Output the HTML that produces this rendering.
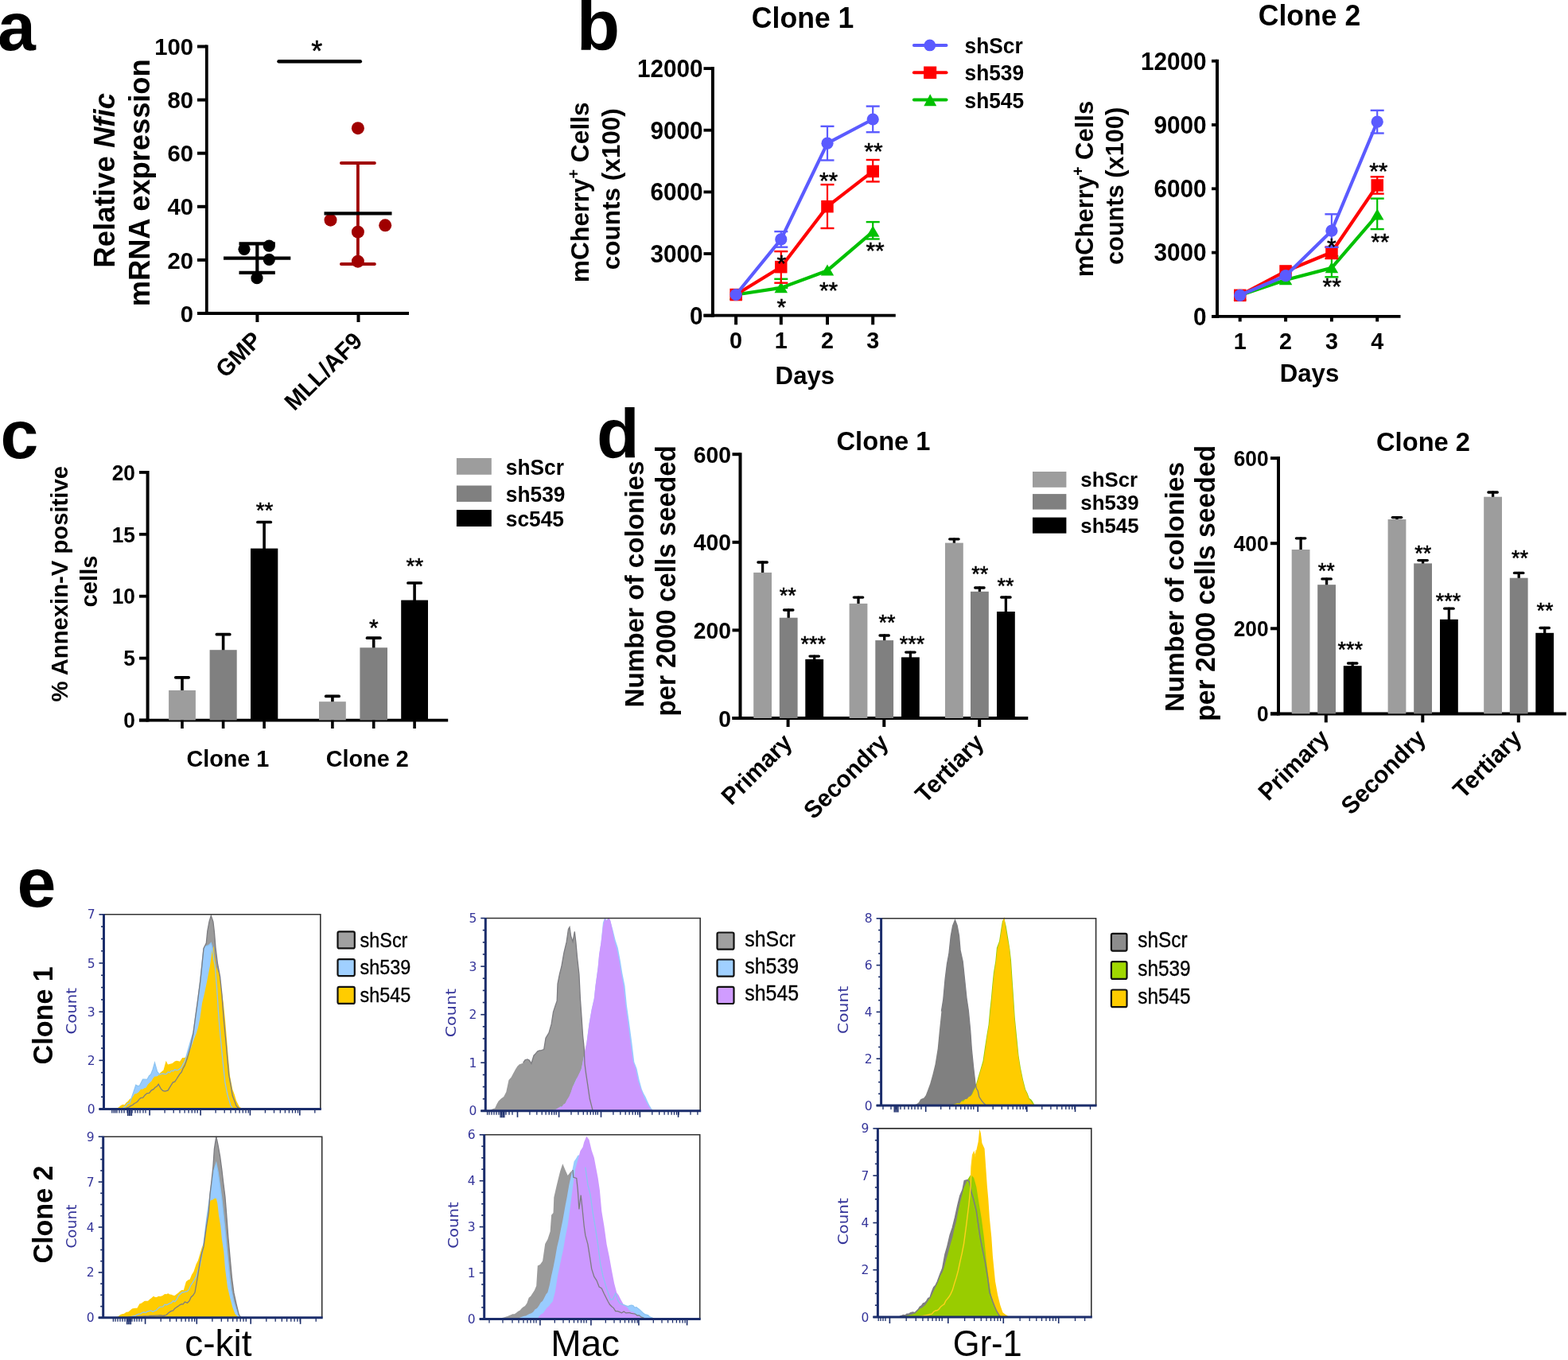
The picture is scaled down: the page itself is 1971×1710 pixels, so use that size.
<!DOCTYPE html>
<html><head><meta charset="utf-8"><title>Figure</title>
<style>html,body{margin:0;padding:0;background:#fff;overflow:hidden;width:1971px;height:1710px;}svg{display:block;filter:blur(0.4px);}</style>
</head><body>
<svg width="1971" height="1710" viewBox="0 0 1971 1710">
<rect width="1971" height="1710" fill="#fff"/>
<text transform="translate(-3.00 63.00)" font-size="86" text-anchor="start" fill="#000" style='font-family:"Liberation Sans",Arial,sans-serif;font-weight:bold'>a</text>
<line x1="259.8" y1="56.5" x2="259.8" y2="396.0" stroke="#000" stroke-width="3.8" stroke-linecap="butt"/>
<line x1="248.0" y1="394.0" x2="514.0" y2="394.0" stroke="#000" stroke-width="4" stroke-linecap="butt"/>
<line x1="248.0" y1="394.0" x2="259.8" y2="394.0" stroke="#000" stroke-width="4" stroke-linecap="butt"/>
<text transform="translate(243.00 404.60) scale(0.9750 1)" font-size="30" text-anchor="end" fill="#000" style='font-family:"Liberation Sans",Arial,sans-serif;font-weight:bold'>0</text>
<line x1="248.0" y1="326.9" x2="259.8" y2="326.9" stroke="#000" stroke-width="4" stroke-linecap="butt"/>
<text transform="translate(243.00 337.50) scale(0.9750 1)" font-size="30" text-anchor="end" fill="#000" style='font-family:"Liberation Sans",Arial,sans-serif;font-weight:bold'>20</text>
<line x1="248.0" y1="259.8" x2="259.8" y2="259.8" stroke="#000" stroke-width="4" stroke-linecap="butt"/>
<text transform="translate(243.00 270.40) scale(0.9750 1)" font-size="30" text-anchor="end" fill="#000" style='font-family:"Liberation Sans",Arial,sans-serif;font-weight:bold'>40</text>
<line x1="248.0" y1="192.7" x2="259.8" y2="192.7" stroke="#000" stroke-width="4" stroke-linecap="butt"/>
<text transform="translate(243.00 203.30) scale(0.9750 1)" font-size="30" text-anchor="end" fill="#000" style='font-family:"Liberation Sans",Arial,sans-serif;font-weight:bold'>60</text>
<line x1="248.0" y1="125.6" x2="259.8" y2="125.6" stroke="#000" stroke-width="4" stroke-linecap="butt"/>
<text transform="translate(243.00 136.20) scale(0.9750 1)" font-size="30" text-anchor="end" fill="#000" style='font-family:"Liberation Sans",Arial,sans-serif;font-weight:bold'>80</text>
<line x1="248.0" y1="58.5" x2="259.8" y2="58.5" stroke="#000" stroke-width="4" stroke-linecap="butt"/>
<text transform="translate(243.00 69.10) scale(0.9750 1)" font-size="30" text-anchor="end" fill="#000" style='font-family:"Liberation Sans",Arial,sans-serif;font-weight:bold'>100</text>
<line x1="323.4" y1="394.0" x2="323.4" y2="405.0" stroke="#000" stroke-width="4" stroke-linecap="butt"/>
<line x1="450.5" y1="394.0" x2="450.5" y2="405.0" stroke="#000" stroke-width="4" stroke-linecap="butt"/>
<text transform="translate(143.8 226.8) rotate(-90) scale(0.985 1)" text-anchor="middle" font-size="37.2" style='font-family:"Liberation Sans",Arial,sans-serif;font-weight:bold'>Relative <tspan font-style="italic">Nfic</tspan></text>
<text transform="translate(188.10 229.80) rotate(-90) scale(0.9750 1)" font-size="37.2" text-anchor="middle" fill="#000" style='font-family:"Liberation Sans",Arial,sans-serif;font-weight:bold'>mRNA expression</text>
<text transform="translate(330.50 429.50) rotate(-45) scale(0.9750 1)" font-size="30" text-anchor="end" fill="#000" style='font-family:"Liberation Sans",Arial,sans-serif;font-weight:bold'>GMP</text>
<text transform="translate(457.30 430.50) rotate(-45) scale(0.9750 1)" font-size="30" text-anchor="end" fill="#000" style='font-family:"Liberation Sans",Arial,sans-serif;font-weight:bold'>MLL/AF9</text>
<line x1="281.0" y1="324.7" x2="365.3" y2="324.7" stroke="#000" stroke-width="4.2" stroke-linecap="butt"/>
<line x1="300.5" y1="306.3" x2="345.8" y2="306.3" stroke="#000" stroke-width="4.2" stroke-linecap="butt"/>
<line x1="300.5" y1="342.8" x2="345.8" y2="342.8" stroke="#000" stroke-width="4.2" stroke-linecap="butt"/>
<line x1="323.3" y1="306.3" x2="323.3" y2="342.8" stroke="#000" stroke-width="4.2" stroke-linecap="butt"/>
<circle cx="307.0" cy="313.3" r="7.6" fill="#000"/>
<circle cx="338.3" cy="309.2" r="7.6" fill="#000"/>
<circle cx="338.3" cy="326.3" r="7.6" fill="#000"/>
<circle cx="323.0" cy="349.7" r="7.6" fill="#000"/>
<line x1="449.9" y1="205.0" x2="449.9" y2="332.0" stroke="#A00000" stroke-width="3.8" stroke-linecap="butt"/>
<line x1="429.0" y1="205.0" x2="470.8" y2="205.0" stroke="#A00000" stroke-width="4.1" stroke-linecap="round"/>
<line x1="429.0" y1="332.0" x2="470.8" y2="332.0" stroke="#A00000" stroke-width="4.1" stroke-linecap="round"/>
<circle cx="449.9" cy="161.2" r="8" fill="#A00000"/>
<circle cx="415.5" cy="276.7" r="8" fill="#A00000"/>
<circle cx="484.2" cy="283.3" r="8" fill="#A00000"/>
<circle cx="449.9" cy="291.7" r="8" fill="#A00000"/>
<circle cx="449.9" cy="328.7" r="8" fill="#A00000"/>
<line x1="407.5" y1="268.3" x2="492.5" y2="268.3" stroke="#000" stroke-width="4.2" stroke-linecap="butt"/>
<line x1="350.5" y1="77.2" x2="452.8" y2="77.2" stroke="#000" stroke-width="4.5" stroke-linecap="round"/>
<text transform="translate(398.25 76.80)" font-size="36" text-anchor="middle" fill="#000" style='font-family:"Liberation Sans",Arial,sans-serif;font-weight:normal;stroke:#000;stroke-width:0.5'>*</text>
<text transform="translate(724.80 62.60)" font-size="89" text-anchor="start" fill="#000" style='font-family:"Liberation Sans",Arial,sans-serif;font-weight:bold'>b</text>
<line x1="895.9" y1="84.1" x2="895.9" y2="398.7" stroke="#000" stroke-width="4" stroke-linecap="butt"/>
<line x1="884.5" y1="396.7" x2="1125.8" y2="396.7" stroke="#000" stroke-width="3.8" stroke-linecap="butt"/>
<line x1="884.5" y1="396.7" x2="895.9" y2="396.7" stroke="#000" stroke-width="3.8" stroke-linecap="butt"/>
<text transform="translate(883.60 407.50) scale(0.9750 1)" font-size="30.5" text-anchor="end" fill="#000" style='font-family:"Liberation Sans",Arial,sans-serif;font-weight:bold'>0</text>
<line x1="884.5" y1="319.0" x2="895.9" y2="319.0" stroke="#000" stroke-width="3.8" stroke-linecap="butt"/>
<text transform="translate(883.60 329.85) scale(0.9750 1)" font-size="30.5" text-anchor="end" fill="#000" style='font-family:"Liberation Sans",Arial,sans-serif;font-weight:bold'>3000</text>
<line x1="884.5" y1="241.4" x2="895.9" y2="241.4" stroke="#000" stroke-width="3.8" stroke-linecap="butt"/>
<text transform="translate(883.60 252.20) scale(0.9750 1)" font-size="30.5" text-anchor="end" fill="#000" style='font-family:"Liberation Sans",Arial,sans-serif;font-weight:bold'>6000</text>
<line x1="884.5" y1="163.7" x2="895.9" y2="163.7" stroke="#000" stroke-width="3.8" stroke-linecap="butt"/>
<text transform="translate(883.60 174.55) scale(0.9750 1)" font-size="30.5" text-anchor="end" fill="#000" style='font-family:"Liberation Sans",Arial,sans-serif;font-weight:bold'>9000</text>
<line x1="884.5" y1="86.1" x2="895.9" y2="86.1" stroke="#000" stroke-width="3.8" stroke-linecap="butt"/>
<text transform="translate(883.60 96.90) scale(0.9750 1)" font-size="30.5" text-anchor="end" fill="#000" style='font-family:"Liberation Sans",Arial,sans-serif;font-weight:bold'>12000</text>
<line x1="925.1" y1="396.7" x2="925.1" y2="408.3" stroke="#000" stroke-width="4" stroke-linecap="butt"/>
<text transform="translate(925.10 438.20) scale(0.9750 1)" font-size="29.5" text-anchor="middle" fill="#000" style='font-family:"Liberation Sans",Arial,sans-serif;font-weight:bold'>0</text>
<line x1="981.8" y1="396.7" x2="981.8" y2="408.3" stroke="#000" stroke-width="4" stroke-linecap="butt"/>
<text transform="translate(981.80 438.20) scale(0.9750 1)" font-size="29.5" text-anchor="middle" fill="#000" style='font-family:"Liberation Sans",Arial,sans-serif;font-weight:bold'>1</text>
<line x1="1040.0" y1="396.7" x2="1040.0" y2="408.3" stroke="#000" stroke-width="4" stroke-linecap="butt"/>
<text transform="translate(1040.00 438.20) scale(0.9750 1)" font-size="29.5" text-anchor="middle" fill="#000" style='font-family:"Liberation Sans",Arial,sans-serif;font-weight:bold'>2</text>
<line x1="1097.2" y1="396.7" x2="1097.2" y2="408.3" stroke="#000" stroke-width="4" stroke-linecap="butt"/>
<text transform="translate(1097.20 438.20) scale(0.9750 1)" font-size="29.5" text-anchor="middle" fill="#000" style='font-family:"Liberation Sans",Arial,sans-serif;font-weight:bold'>3</text>
<line x1="981.8" y1="350.8" x2="981.8" y2="362.0" stroke="#00C000" stroke-width="2.2" stroke-linecap="butt"/>
<line x1="973.3" y1="350.8" x2="990.3" y2="350.8" stroke="#00C000" stroke-width="2.4" stroke-linecap="butt"/>
<line x1="973.3" y1="362.0" x2="990.3" y2="362.0" stroke="#00C000" stroke-width="2.4" stroke-linecap="butt"/>
<line x1="1097.2" y1="279.1" x2="1097.2" y2="300.5" stroke="#00C000" stroke-width="2.2" stroke-linecap="butt"/>
<line x1="1088.7" y1="279.1" x2="1105.7" y2="279.1" stroke="#00C000" stroke-width="2.4" stroke-linecap="butt"/>
<line x1="1088.7" y1="300.5" x2="1105.7" y2="300.5" stroke="#00C000" stroke-width="2.4" stroke-linecap="butt"/>
<polyline points="925.1,370.5 981.8,361.9 1040.0,340.2 1097.2,291.4" fill="none" stroke="#00C000" stroke-width="4.2" stroke-linejoin="round"/>
<polygon points="925.1,362.8 933.4,376.8 916.9,376.8" fill="#00C000"/>
<polygon points="981.8,354.2 990.0,368.2 973.5,368.2" fill="#00C000"/>
<polygon points="1040.0,332.5 1048.2,346.5 1031.8,346.5" fill="#00C000"/>
<polygon points="1097.2,283.7 1105.5,297.7 1089.0,297.7" fill="#00C000"/>
<line x1="981.8" y1="316.1" x2="981.8" y2="355.7" stroke="#FF0000" stroke-width="2.2" stroke-linecap="butt"/>
<line x1="973.3" y1="316.1" x2="990.3" y2="316.1" stroke="#FF0000" stroke-width="2.4" stroke-linecap="butt"/>
<line x1="973.3" y1="355.7" x2="990.3" y2="355.7" stroke="#FF0000" stroke-width="2.4" stroke-linecap="butt"/>
<line x1="1040.0" y1="232.1" x2="1040.0" y2="287.0" stroke="#FF0000" stroke-width="2.2" stroke-linecap="butt"/>
<line x1="1031.5" y1="232.1" x2="1048.5" y2="232.1" stroke="#FF0000" stroke-width="2.4" stroke-linecap="butt"/>
<line x1="1031.5" y1="287.0" x2="1048.5" y2="287.0" stroke="#FF0000" stroke-width="2.4" stroke-linecap="butt"/>
<line x1="1097.2" y1="201.0" x2="1097.2" y2="228.4" stroke="#FF0000" stroke-width="2.2" stroke-linecap="butt"/>
<line x1="1088.7" y1="201.0" x2="1105.7" y2="201.0" stroke="#FF0000" stroke-width="2.4" stroke-linecap="butt"/>
<line x1="1088.7" y1="228.4" x2="1105.7" y2="228.4" stroke="#FF0000" stroke-width="2.4" stroke-linecap="butt"/>
<polyline points="925.1,370.5 981.8,335.7 1040.0,259.6 1097.2,215.4" fill="none" stroke="#FF0000" stroke-width="4.2" stroke-linejoin="round"/>
<rect x="917.4" y="362.8" width="15.5" height="15.5" fill="#FF0000"/>
<rect x="974.0" y="327.9" width="15.5" height="15.5" fill="#FF0000"/>
<rect x="1032.2" y="251.9" width="15.5" height="15.5" fill="#FF0000"/>
<rect x="1089.5" y="207.7" width="15.5" height="15.5" fill="#FF0000"/>
<line x1="981.8" y1="291.1" x2="981.8" y2="310.7" stroke="#5B5BFF" stroke-width="2.2" stroke-linecap="butt"/>
<line x1="973.3" y1="291.1" x2="990.3" y2="291.1" stroke="#5B5BFF" stroke-width="2.4" stroke-linecap="butt"/>
<line x1="973.3" y1="310.7" x2="990.3" y2="310.7" stroke="#5B5BFF" stroke-width="2.4" stroke-linecap="butt"/>
<line x1="1040.0" y1="158.8" x2="1040.0" y2="201.5" stroke="#5B5BFF" stroke-width="2.2" stroke-linecap="butt"/>
<line x1="1031.5" y1="158.8" x2="1048.5" y2="158.8" stroke="#5B5BFF" stroke-width="2.4" stroke-linecap="butt"/>
<line x1="1031.5" y1="201.5" x2="1048.5" y2="201.5" stroke="#5B5BFF" stroke-width="2.4" stroke-linecap="butt"/>
<line x1="1097.2" y1="133.6" x2="1097.2" y2="166.2" stroke="#5B5BFF" stroke-width="2.2" stroke-linecap="butt"/>
<line x1="1088.7" y1="133.6" x2="1105.7" y2="133.6" stroke="#5B5BFF" stroke-width="2.4" stroke-linecap="butt"/>
<line x1="1088.7" y1="166.2" x2="1105.7" y2="166.2" stroke="#5B5BFF" stroke-width="2.4" stroke-linecap="butt"/>
<polyline points="925.1,370.5 981.8,300.9 1040.0,180.2 1097.2,150.0" fill="none" stroke="#5B5BFF" stroke-width="4.2" stroke-linejoin="round"/>
<circle cx="925.1" cy="370.5" r="7.6" fill="#5B5BFF"/>
<circle cx="981.8" cy="300.9" r="7.6" fill="#5B5BFF"/>
<circle cx="1040.0" cy="180.2" r="7.6" fill="#5B5BFF"/>
<circle cx="1097.2" cy="150.0" r="7.6" fill="#5B5BFF"/>
<text transform="translate(982.30 340.50)" font-size="30" text-anchor="middle" fill="#000" style='font-family:"Liberation Sans",Arial,sans-serif;font-weight:normal;stroke:#000;stroke-width:0.5'>*</text>
<text transform="translate(982.30 395.70)" font-size="30" text-anchor="middle" fill="#000" style='font-family:"Liberation Sans",Arial,sans-serif;font-weight:normal;stroke:#000;stroke-width:0.5'>*</text>
<text transform="translate(1041.60 236.50)" font-size="30" text-anchor="middle" fill="#000" style='font-family:"Liberation Sans",Arial,sans-serif;font-weight:normal;stroke:#000;stroke-width:0.5'>**</text>
<text transform="translate(1041.60 375.20)" font-size="30" text-anchor="middle" fill="#000" style='font-family:"Liberation Sans",Arial,sans-serif;font-weight:normal;stroke:#000;stroke-width:0.5'>**</text>
<text transform="translate(1098.00 199.70)" font-size="30" text-anchor="middle" fill="#000" style='font-family:"Liberation Sans",Arial,sans-serif;font-weight:normal;stroke:#000;stroke-width:0.5'>**</text>
<text transform="translate(1100.10 324.90)" font-size="30" text-anchor="middle" fill="#000" style='font-family:"Liberation Sans",Arial,sans-serif;font-weight:normal;stroke:#000;stroke-width:0.5'>**</text>
<text transform="translate(1009.10 35.00) scale(0.9750 1)" font-size="36.5" text-anchor="middle" fill="#000" style='font-family:"Liberation Sans",Arial,sans-serif;font-weight:bold'>Clone 1</text>
<text transform="translate(1011.90 482.60) scale(0.9750 1)" font-size="32" text-anchor="middle" fill="#000" style='font-family:"Liberation Sans",Arial,sans-serif;font-weight:bold'>Days</text>
<text transform="translate(740.3 241.7) rotate(-90) scale(0.993 1)" text-anchor="middle" font-size="32" style='font-family:"Liberation Sans",Arial,sans-serif;font-weight:bold'>mCherry<tspan font-size="20" dy="-12">+</tspan><tspan dy="12"> Cells</tspan></text>
<text transform="translate(778.70 237.70) rotate(-90) scale(0.9910 1)" font-size="31.8" text-anchor="middle" fill="#000" style='font-family:"Liberation Sans",Arial,sans-serif;font-weight:bold'>counts (x100)</text>
<line x1="1530.0" y1="74.7" x2="1530.0" y2="399.9" stroke="#000" stroke-width="4" stroke-linecap="butt"/>
<line x1="1523.0" y1="397.9" x2="1760.5" y2="397.9" stroke="#000" stroke-width="3.8" stroke-linecap="butt"/>
<line x1="1523.0" y1="397.9" x2="1530.0" y2="397.9" stroke="#000" stroke-width="3.8" stroke-linecap="butt"/>
<text transform="translate(1516.60 408.70) scale(0.9750 1)" font-size="30.5" text-anchor="end" fill="#000" style='font-family:"Liberation Sans",Arial,sans-serif;font-weight:bold'>0</text>
<line x1="1523.0" y1="317.6" x2="1530.0" y2="317.6" stroke="#000" stroke-width="3.8" stroke-linecap="butt"/>
<text transform="translate(1516.60 328.40) scale(0.9750 1)" font-size="30.5" text-anchor="end" fill="#000" style='font-family:"Liberation Sans",Arial,sans-serif;font-weight:bold'>3000</text>
<line x1="1523.0" y1="237.3" x2="1530.0" y2="237.3" stroke="#000" stroke-width="3.8" stroke-linecap="butt"/>
<text transform="translate(1516.60 248.10) scale(0.9750 1)" font-size="30.5" text-anchor="end" fill="#000" style='font-family:"Liberation Sans",Arial,sans-serif;font-weight:bold'>6000</text>
<line x1="1523.0" y1="157.0" x2="1530.0" y2="157.0" stroke="#000" stroke-width="3.8" stroke-linecap="butt"/>
<text transform="translate(1516.60 167.80) scale(0.9750 1)" font-size="30.5" text-anchor="end" fill="#000" style='font-family:"Liberation Sans",Arial,sans-serif;font-weight:bold'>9000</text>
<line x1="1523.0" y1="76.7" x2="1530.0" y2="76.7" stroke="#000" stroke-width="3.8" stroke-linecap="butt"/>
<text transform="translate(1516.60 87.50) scale(0.9750 1)" font-size="30.5" text-anchor="end" fill="#000" style='font-family:"Liberation Sans",Arial,sans-serif;font-weight:bold'>12000</text>
<line x1="1558.7" y1="397.9" x2="1558.7" y2="404.4" stroke="#000" stroke-width="4" stroke-linecap="butt"/>
<text transform="translate(1558.70 439.40) scale(0.9750 1)" font-size="29.5" text-anchor="middle" fill="#000" style='font-family:"Liberation Sans",Arial,sans-serif;font-weight:bold'>1</text>
<line x1="1616.1" y1="397.9" x2="1616.1" y2="404.4" stroke="#000" stroke-width="4" stroke-linecap="butt"/>
<text transform="translate(1616.10 439.40) scale(0.9750 1)" font-size="29.5" text-anchor="middle" fill="#000" style='font-family:"Liberation Sans",Arial,sans-serif;font-weight:bold'>2</text>
<line x1="1673.9" y1="397.9" x2="1673.9" y2="404.4" stroke="#000" stroke-width="4" stroke-linecap="butt"/>
<text transform="translate(1673.90 439.40) scale(0.9750 1)" font-size="29.5" text-anchor="middle" fill="#000" style='font-family:"Liberation Sans",Arial,sans-serif;font-weight:bold'>3</text>
<line x1="1731.2" y1="397.9" x2="1731.2" y2="404.4" stroke="#000" stroke-width="4" stroke-linecap="butt"/>
<text transform="translate(1731.20 439.40) scale(0.9750 1)" font-size="29.5" text-anchor="middle" fill="#000" style='font-family:"Liberation Sans",Arial,sans-serif;font-weight:bold'>4</text>
<line x1="1673.9" y1="322.0" x2="1673.9" y2="348.3" stroke="#00C000" stroke-width="2.2" stroke-linecap="butt"/>
<line x1="1665.4" y1="322.0" x2="1682.4" y2="322.0" stroke="#00C000" stroke-width="2.4" stroke-linecap="butt"/>
<line x1="1665.4" y1="348.3" x2="1682.4" y2="348.3" stroke="#00C000" stroke-width="2.4" stroke-linecap="butt"/>
<line x1="1731.2" y1="249.6" x2="1731.2" y2="288.1" stroke="#00C000" stroke-width="2.2" stroke-linecap="butt"/>
<line x1="1722.7" y1="249.6" x2="1739.7" y2="249.6" stroke="#00C000" stroke-width="2.4" stroke-linecap="butt"/>
<line x1="1722.7" y1="288.1" x2="1739.7" y2="288.1" stroke="#00C000" stroke-width="2.4" stroke-linecap="butt"/>
<polyline points="1558.7,371.3 1616.1,352.0 1673.9,336.9 1731.2,270.3" fill="none" stroke="#00C000" stroke-width="4.2" stroke-linejoin="round"/>
<polygon points="1558.7,363.6 1567.0,377.6 1550.5,377.6" fill="#00C000"/>
<polygon points="1616.1,344.3 1624.3,358.3 1607.8,358.3" fill="#00C000"/>
<polygon points="1673.9,329.2 1682.2,343.2 1665.7,343.2" fill="#00C000"/>
<polygon points="1731.2,262.6 1739.5,276.6 1723.0,276.6" fill="#00C000"/>
<line x1="1673.9" y1="310.7" x2="1673.9" y2="325.0" stroke="#FF0000" stroke-width="2.2" stroke-linecap="butt"/>
<line x1="1665.4" y1="310.7" x2="1682.4" y2="310.7" stroke="#FF0000" stroke-width="2.4" stroke-linecap="butt"/>
<line x1="1665.4" y1="325.0" x2="1682.4" y2="325.0" stroke="#FF0000" stroke-width="2.4" stroke-linecap="butt"/>
<line x1="1731.2" y1="222.3" x2="1731.2" y2="243.6" stroke="#FF0000" stroke-width="2.2" stroke-linecap="butt"/>
<line x1="1722.7" y1="222.3" x2="1739.7" y2="222.3" stroke="#FF0000" stroke-width="2.4" stroke-linecap="butt"/>
<line x1="1722.7" y1="243.6" x2="1739.7" y2="243.6" stroke="#FF0000" stroke-width="2.4" stroke-linecap="butt"/>
<polyline points="1558.7,371.3 1616.1,341.0 1673.9,317.3 1731.2,233.0" fill="none" stroke="#FF0000" stroke-width="4.2" stroke-linejoin="round"/>
<rect x="1551.0" y="363.6" width="15.5" height="15.5" fill="#FF0000"/>
<rect x="1608.3" y="333.2" width="15.5" height="15.5" fill="#FF0000"/>
<rect x="1666.2" y="309.6" width="15.5" height="15.5" fill="#FF0000"/>
<rect x="1723.5" y="225.2" width="15.5" height="15.5" fill="#FF0000"/>
<line x1="1673.9" y1="269.3" x2="1673.9" y2="310.7" stroke="#5B5BFF" stroke-width="2.2" stroke-linecap="butt"/>
<line x1="1665.4" y1="269.3" x2="1682.4" y2="269.3" stroke="#5B5BFF" stroke-width="2.4" stroke-linecap="butt"/>
<line x1="1665.4" y1="310.7" x2="1682.4" y2="310.7" stroke="#5B5BFF" stroke-width="2.4" stroke-linecap="butt"/>
<line x1="1731.2" y1="138.8" x2="1731.2" y2="167.5" stroke="#5B5BFF" stroke-width="2.2" stroke-linecap="butt"/>
<line x1="1722.7" y1="138.8" x2="1739.7" y2="138.8" stroke="#5B5BFF" stroke-width="2.4" stroke-linecap="butt"/>
<line x1="1722.7" y1="167.5" x2="1739.7" y2="167.5" stroke="#5B5BFF" stroke-width="2.4" stroke-linecap="butt"/>
<polyline points="1558.7,371.3 1616.1,346.7 1673.9,290.2 1731.2,153.2" fill="none" stroke="#5B5BFF" stroke-width="4.2" stroke-linejoin="round"/>
<circle cx="1558.7" cy="371.3" r="7.6" fill="#5B5BFF"/>
<circle cx="1616.1" cy="346.7" r="7.6" fill="#5B5BFF"/>
<circle cx="1673.9" cy="290.2" r="7.6" fill="#5B5BFF"/>
<circle cx="1731.2" cy="153.2" r="7.6" fill="#5B5BFF"/>
<text transform="translate(1673.80 319.50)" font-size="30" text-anchor="middle" fill="#000" style='font-family:"Liberation Sans",Arial,sans-serif;font-weight:normal;stroke:#000;stroke-width:0.5'>*</text>
<text transform="translate(1674.20 370.30)" font-size="30" text-anchor="middle" fill="#000" style='font-family:"Liberation Sans",Arial,sans-serif;font-weight:normal;stroke:#000;stroke-width:0.5'>**</text>
<text transform="translate(1732.80 225.00)" font-size="30" text-anchor="middle" fill="#000" style='font-family:"Liberation Sans",Arial,sans-serif;font-weight:normal;stroke:#000;stroke-width:0.5'>**</text>
<text transform="translate(1734.80 314.30)" font-size="30" text-anchor="middle" fill="#000" style='font-family:"Liberation Sans",Arial,sans-serif;font-weight:normal;stroke:#000;stroke-width:0.5'>**</text>
<text transform="translate(1646.00 31.60) scale(0.9750 1)" font-size="36.5" text-anchor="middle" fill="#000" style='font-family:"Liberation Sans",Arial,sans-serif;font-weight:bold'>Clone 2</text>
<text transform="translate(1646.00 479.70) scale(0.9750 1)" font-size="32" text-anchor="middle" fill="#000" style='font-family:"Liberation Sans",Arial,sans-serif;font-weight:bold'>Days</text>
<text transform="translate(1373.5 237.6) rotate(-90) scale(0.991 1)" text-anchor="middle" font-size="31.3" style='font-family:"Liberation Sans",Arial,sans-serif;font-weight:bold'>mCherry<tspan font-size="19.5" dy="-12">+</tspan><tspan dy="12"> Cells</tspan></text>
<text transform="translate(1411.50 233.90) rotate(-90) scale(0.9910 1)" font-size="31" text-anchor="middle" fill="#000" style='font-family:"Liberation Sans",Arial,sans-serif;font-weight:bold'>counts (x100)</text>
<line x1="1148.9" y1="56.9" x2="1189.5" y2="56.9" stroke="#5B5BFF" stroke-width="4" stroke-linecap="round"/>
<circle cx="1168.8" cy="56.9" r="7.4" fill="#5B5BFF"/>
<text transform="translate(1212.50 66.60) scale(0.9750 1)" font-size="27" text-anchor="start" fill="#000" style='font-family:"Liberation Sans",Arial,sans-serif;font-weight:bold'>shScr</text>
<line x1="1148.9" y1="91.3" x2="1189.5" y2="91.3" stroke="#FF0000" stroke-width="4" stroke-linecap="round"/>
<rect x="1161.1" y="83.5" width="16.1" height="15.6" fill="#FF0000"/>
<text transform="translate(1212.50 101.10) scale(0.9750 1)" font-size="27" text-anchor="start" fill="#000" style='font-family:"Liberation Sans",Arial,sans-serif;font-weight:bold'>sh539</text>
<line x1="1148.9" y1="125.5" x2="1189.5" y2="125.5" stroke="#00C000" stroke-width="4" stroke-linecap="round"/>
<polygon points="1169.2,118.2 1177.2,133.2 1161.3,133.2" fill="#00C000"/>
<text transform="translate(1212.50 135.60) scale(0.9750 1)" font-size="27" text-anchor="start" fill="#000" style='font-family:"Liberation Sans",Arial,sans-serif;font-weight:bold'>sh545</text>
<text transform="translate(0.50 576.00)" font-size="86" text-anchor="start" fill="#000" style='font-family:"Liberation Sans",Arial,sans-serif;font-weight:bold'>c</text>
<line x1="185.6" y1="591.9" x2="185.6" y2="907.5" stroke="#000" stroke-width="4" stroke-linecap="butt"/>
<line x1="175.0" y1="905.6" x2="563.2" y2="905.6" stroke="#000" stroke-width="3.8" stroke-linecap="butt"/>
<line x1="175.0" y1="905.5" x2="185.6" y2="905.5" stroke="#000" stroke-width="3.8" stroke-linecap="butt"/>
<text transform="translate(170.00 915.20) scale(0.9750 1)" font-size="27" text-anchor="end" fill="#000" style='font-family:"Liberation Sans",Arial,sans-serif;font-weight:bold'>0</text>
<line x1="175.0" y1="827.6" x2="185.6" y2="827.6" stroke="#000" stroke-width="3.8" stroke-linecap="butt"/>
<text transform="translate(170.00 837.30) scale(0.9750 1)" font-size="27" text-anchor="end" fill="#000" style='font-family:"Liberation Sans",Arial,sans-serif;font-weight:bold'>5</text>
<line x1="175.0" y1="749.7" x2="185.6" y2="749.7" stroke="#000" stroke-width="3.8" stroke-linecap="butt"/>
<text transform="translate(170.00 759.40) scale(0.9750 1)" font-size="27" text-anchor="end" fill="#000" style='font-family:"Liberation Sans",Arial,sans-serif;font-weight:bold'>10</text>
<line x1="175.0" y1="671.8" x2="185.6" y2="671.8" stroke="#000" stroke-width="3.8" stroke-linecap="butt"/>
<text transform="translate(170.00 681.50) scale(0.9750 1)" font-size="27" text-anchor="end" fill="#000" style='font-family:"Liberation Sans",Arial,sans-serif;font-weight:bold'>15</text>
<line x1="175.0" y1="593.9" x2="185.6" y2="593.9" stroke="#000" stroke-width="3.8" stroke-linecap="butt"/>
<text transform="translate(170.00 603.60) scale(0.9750 1)" font-size="27" text-anchor="end" fill="#000" style='font-family:"Liberation Sans",Arial,sans-serif;font-weight:bold'>20</text>
<line x1="229.0" y1="851.8" x2="229.0" y2="870.0" stroke="#000" stroke-width="3.6" stroke-linecap="butt"/>
<line x1="220.8" y1="851.8" x2="237.2" y2="851.8" stroke="#000" stroke-width="3.7" stroke-linecap="round"/>
<rect x="212.1" y="868.0" width="33.8" height="37.5" fill="#9D9D9D"/>
<line x1="229.0" y1="905.5" x2="229.0" y2="916.0" stroke="#000" stroke-width="3.6" stroke-linecap="butt"/>
<line x1="280.6" y1="797.7" x2="280.6" y2="819.2" stroke="#000" stroke-width="3.6" stroke-linecap="butt"/>
<line x1="272.4" y1="797.7" x2="288.8" y2="797.7" stroke="#000" stroke-width="3.7" stroke-linecap="round"/>
<rect x="263.6" y="817.2" width="34.1" height="88.3" fill="#808080"/>
<line x1="280.6" y1="905.5" x2="280.6" y2="916.0" stroke="#000" stroke-width="3.6" stroke-linecap="butt"/>
<line x1="332.1" y1="656.5" x2="332.1" y2="691.6" stroke="#000" stroke-width="3.6" stroke-linecap="butt"/>
<line x1="323.9" y1="656.5" x2="340.3" y2="656.5" stroke="#000" stroke-width="3.7" stroke-linecap="round"/>
<rect x="315.0" y="689.6" width="34.3" height="215.9" fill="#000000"/>
<line x1="332.1" y1="905.5" x2="332.1" y2="916.0" stroke="#000" stroke-width="3.6" stroke-linecap="butt"/>
<line x1="417.9" y1="875.4" x2="417.9" y2="884.2" stroke="#000" stroke-width="3.6" stroke-linecap="butt"/>
<line x1="409.7" y1="875.4" x2="426.1" y2="875.4" stroke="#000" stroke-width="3.7" stroke-linecap="round"/>
<rect x="401.0" y="882.2" width="33.8" height="23.3" fill="#9D9D9D"/>
<line x1="417.9" y1="905.5" x2="417.9" y2="916.0" stroke="#000" stroke-width="3.6" stroke-linecap="butt"/>
<line x1="469.7" y1="802.2" x2="469.7" y2="816.3" stroke="#000" stroke-width="3.6" stroke-linecap="butt"/>
<line x1="461.5" y1="802.2" x2="477.9" y2="802.2" stroke="#000" stroke-width="3.7" stroke-linecap="round"/>
<rect x="452.4" y="814.3" width="34.6" height="91.2" fill="#808080"/>
<line x1="469.7" y1="905.5" x2="469.7" y2="916.0" stroke="#000" stroke-width="3.6" stroke-linecap="butt"/>
<line x1="521.1" y1="733.0" x2="521.1" y2="756.6" stroke="#000" stroke-width="3.6" stroke-linecap="butt"/>
<line x1="512.9" y1="733.0" x2="529.3" y2="733.0" stroke="#000" stroke-width="3.7" stroke-linecap="round"/>
<rect x="504.2" y="754.6" width="33.8" height="150.9" fill="#000000"/>
<line x1="521.1" y1="905.5" x2="521.1" y2="916.0" stroke="#000" stroke-width="3.6" stroke-linecap="butt"/>
<text transform="translate(332.60 650.60)" font-size="28" text-anchor="middle" fill="#000" style='font-family:"Liberation Sans",Arial,sans-serif;font-weight:normal;stroke:#000;stroke-width:0.5'>**</text>
<text transform="translate(469.90 798.50)" font-size="30" text-anchor="middle" fill="#000" style='font-family:"Liberation Sans",Arial,sans-serif;font-weight:normal;stroke:#000;stroke-width:0.5'>*</text>
<text transform="translate(521.30 720.80)" font-size="28" text-anchor="middle" fill="#000" style='font-family:"Liberation Sans",Arial,sans-serif;font-weight:normal;stroke:#000;stroke-width:0.5'>**</text>
<text transform="translate(286.40 964.30) scale(0.9750 1)" font-size="29.5" text-anchor="middle" fill="#000" style='font-family:"Liberation Sans",Arial,sans-serif;font-weight:bold'>Clone 1</text>
<text transform="translate(461.70 964.30) scale(0.9750 1)" font-size="29.5" text-anchor="middle" fill="#000" style='font-family:"Liberation Sans",Arial,sans-serif;font-weight:bold'>Clone 2</text>
<text transform="translate(84.80 734.20) rotate(-90) scale(0.9760 1)" font-size="30" text-anchor="middle" fill="#000" style='font-family:"Liberation Sans",Arial,sans-serif;font-weight:bold'>% Annexin-V positive</text>
<text transform="translate(122.00 731.00) rotate(-90) scale(0.9750 1)" font-size="30" text-anchor="middle" fill="#000" style='font-family:"Liberation Sans",Arial,sans-serif;font-weight:bold'>cells</text>
<rect x="573.9" y="576.0" width="43.9" height="20.8" fill="#9D9D9D"/>
<text transform="translate(635.80 596.60) scale(0.9750 1)" font-size="27" text-anchor="start" fill="#000" style='font-family:"Liberation Sans",Arial,sans-serif;font-weight:bold'>shScr</text>
<rect x="573.9" y="610.5" width="43.9" height="20.4" fill="#808080"/>
<text transform="translate(635.80 631.00) scale(0.9750 1)" font-size="27" text-anchor="start" fill="#000" style='font-family:"Liberation Sans",Arial,sans-serif;font-weight:bold'>sh539</text>
<rect x="573.9" y="641.1" width="43.9" height="20.9" fill="#000000"/>
<text transform="translate(635.80 661.50) scale(0.9750 1)" font-size="27" text-anchor="start" fill="#000" style='font-family:"Liberation Sans",Arial,sans-serif;font-weight:bold'>sc545</text>
<text transform="translate(750.10 575.40)" font-size="88" text-anchor="start" fill="#000" style='font-family:"Liberation Sans",Arial,sans-serif;font-weight:bold'>d</text>
<line x1="930.5" y1="569.2" x2="930.5" y2="905.0" stroke="#000" stroke-width="4" stroke-linecap="butt"/>
<line x1="920.5" y1="903.0" x2="1292.3" y2="903.0" stroke="#000" stroke-width="4" stroke-linecap="butt"/>
<line x1="920.5" y1="903.0" x2="930.5" y2="903.0" stroke="#000" stroke-width="4" stroke-linecap="butt"/>
<text transform="translate(919.00 913.50) scale(0.9750 1)" font-size="29" text-anchor="end" fill="#000" style='font-family:"Liberation Sans",Arial,sans-serif;font-weight:bold'>0</text>
<line x1="920.5" y1="792.4" x2="930.5" y2="792.4" stroke="#000" stroke-width="4" stroke-linecap="butt"/>
<text transform="translate(919.00 802.90) scale(0.9750 1)" font-size="29" text-anchor="end" fill="#000" style='font-family:"Liberation Sans",Arial,sans-serif;font-weight:bold'>200</text>
<line x1="920.5" y1="681.8" x2="930.5" y2="681.8" stroke="#000" stroke-width="4" stroke-linecap="butt"/>
<text transform="translate(919.00 692.30) scale(0.9750 1)" font-size="29" text-anchor="end" fill="#000" style='font-family:"Liberation Sans",Arial,sans-serif;font-weight:bold'>400</text>
<line x1="920.5" y1="571.2" x2="930.5" y2="571.2" stroke="#000" stroke-width="4" stroke-linecap="butt"/>
<text transform="translate(919.00 581.70) scale(0.9750 1)" font-size="29" text-anchor="end" fill="#000" style='font-family:"Liberation Sans",Arial,sans-serif;font-weight:bold'>600</text>
<line x1="990.6" y1="903.0" x2="990.6" y2="914.0" stroke="#000" stroke-width="4" stroke-linecap="butt"/>
<line x1="958.6" y1="707.0" x2="958.6" y2="721.4" stroke="#000" stroke-width="3.3" stroke-linecap="round"/>
<line x1="952.9" y1="707.0" x2="964.3" y2="707.0" stroke="#000" stroke-width="3.3" stroke-linecap="round"/>
<rect x="947.2" y="719.9" width="22.8" height="183.1" fill="#9D9D9D"/>
<line x1="991.2" y1="767.0" x2="991.2" y2="778.2" stroke="#000" stroke-width="3.3" stroke-linecap="round"/>
<line x1="985.5" y1="767.0" x2="996.9" y2="767.0" stroke="#000" stroke-width="3.3" stroke-linecap="round"/>
<rect x="979.8" y="776.7" width="22.8" height="126.3" fill="#808080"/>
<line x1="1023.7" y1="825.1" x2="1023.7" y2="830.4" stroke="#000" stroke-width="3.3" stroke-linecap="round"/>
<line x1="1018.0" y1="825.1" x2="1029.4" y2="825.1" stroke="#000" stroke-width="3.3" stroke-linecap="round"/>
<rect x="1012.3" y="828.9" width="22.8" height="74.1" fill="#000000"/>
<text transform="translate(997.50 935.50) rotate(-45) scale(0.9750 1)" font-size="30.5" text-anchor="end" fill="#000" style='font-family:"Liberation Sans",Arial,sans-serif;font-weight:bold'>Primary</text>
<line x1="1111.3" y1="903.0" x2="1111.3" y2="914.0" stroke="#000" stroke-width="4" stroke-linecap="butt"/>
<line x1="1079.0" y1="751.1" x2="1079.0" y2="760.4" stroke="#000" stroke-width="3.3" stroke-linecap="round"/>
<line x1="1073.3" y1="751.1" x2="1084.7" y2="751.1" stroke="#000" stroke-width="3.3" stroke-linecap="round"/>
<rect x="1067.6" y="758.9" width="22.8" height="144.1" fill="#9D9D9D"/>
<line x1="1111.7" y1="799.0" x2="1111.7" y2="806.6" stroke="#000" stroke-width="3.3" stroke-linecap="round"/>
<line x1="1106.0" y1="799.0" x2="1117.4" y2="799.0" stroke="#000" stroke-width="3.3" stroke-linecap="round"/>
<rect x="1100.3" y="805.1" width="22.8" height="97.9" fill="#808080"/>
<line x1="1144.4" y1="820.1" x2="1144.4" y2="827.9" stroke="#000" stroke-width="3.3" stroke-linecap="round"/>
<line x1="1138.7" y1="820.1" x2="1150.1" y2="820.1" stroke="#000" stroke-width="3.3" stroke-linecap="round"/>
<rect x="1133.0" y="826.4" width="22.8" height="76.6" fill="#000000"/>
<text transform="translate(1118.50 935.50) rotate(-45) scale(0.9750 1)" font-size="30.5" text-anchor="end" fill="#000" style='font-family:"Liberation Sans",Arial,sans-serif;font-weight:bold'>Secondry</text>
<line x1="1231.2" y1="903.0" x2="1231.2" y2="914.0" stroke="#000" stroke-width="4" stroke-linecap="butt"/>
<line x1="1199.4" y1="677.8" x2="1199.4" y2="684.1" stroke="#000" stroke-width="3.3" stroke-linecap="round"/>
<line x1="1193.7" y1="677.8" x2="1205.1" y2="677.8" stroke="#000" stroke-width="3.3" stroke-linecap="round"/>
<rect x="1188.0" y="682.6" width="22.8" height="220.4" fill="#9D9D9D"/>
<line x1="1231.4" y1="739.0" x2="1231.4" y2="745.3" stroke="#000" stroke-width="3.3" stroke-linecap="round"/>
<line x1="1225.7" y1="739.0" x2="1237.1" y2="739.0" stroke="#000" stroke-width="3.3" stroke-linecap="round"/>
<rect x="1220.0" y="743.8" width="22.8" height="159.2" fill="#808080"/>
<line x1="1264.4" y1="751.0" x2="1264.4" y2="770.5" stroke="#000" stroke-width="3.3" stroke-linecap="round"/>
<line x1="1258.7" y1="751.0" x2="1270.1" y2="751.0" stroke="#000" stroke-width="3.3" stroke-linecap="round"/>
<rect x="1253.0" y="769.0" width="22.8" height="134.0" fill="#000000"/>
<text transform="translate(1238.50 935.50) rotate(-45) scale(0.9750 1)" font-size="30.5" text-anchor="end" fill="#000" style='font-family:"Liberation Sans",Arial,sans-serif;font-weight:bold'>Tertiary</text>
<text transform="translate(990.30 757.50)" font-size="27" text-anchor="middle" fill="#000" style='font-family:"Liberation Sans",Arial,sans-serif;font-weight:normal;stroke:#000;stroke-width:0.5'>**</text>
<text transform="translate(1022.30 819.40)" font-size="27" text-anchor="middle" fill="#000" style='font-family:"Liberation Sans",Arial,sans-serif;font-weight:normal;stroke:#000;stroke-width:0.5'>***</text>
<text transform="translate(1114.90 792.00)" font-size="27" text-anchor="middle" fill="#000" style='font-family:"Liberation Sans",Arial,sans-serif;font-weight:normal;stroke:#000;stroke-width:0.5'>**</text>
<text transform="translate(1146.40 819.40)" font-size="27" text-anchor="middle" fill="#000" style='font-family:"Liberation Sans",Arial,sans-serif;font-weight:normal;stroke:#000;stroke-width:0.5'>***</text>
<text transform="translate(1231.70 730.50)" font-size="27" text-anchor="middle" fill="#000" style='font-family:"Liberation Sans",Arial,sans-serif;font-weight:normal;stroke:#000;stroke-width:0.5'>**</text>
<text transform="translate(1264.00 745.50)" font-size="27" text-anchor="middle" fill="#000" style='font-family:"Liberation Sans",Arial,sans-serif;font-weight:normal;stroke:#000;stroke-width:0.5'>**</text>
<line x1="1607.0" y1="574.1" x2="1607.0" y2="899.4" stroke="#000" stroke-width="4" stroke-linecap="butt"/>
<line x1="1597.0" y1="897.4" x2="1968.8" y2="897.4" stroke="#000" stroke-width="4" stroke-linecap="butt"/>
<line x1="1597.0" y1="897.4" x2="1607.0" y2="897.4" stroke="#000" stroke-width="4" stroke-linecap="butt"/>
<text transform="translate(1594.60 907.17) scale(0.9750 1)" font-size="27" text-anchor="end" fill="#000" style='font-family:"Liberation Sans",Arial,sans-serif;font-weight:bold'>0</text>
<line x1="1597.0" y1="790.3" x2="1607.0" y2="790.3" stroke="#000" stroke-width="4" stroke-linecap="butt"/>
<text transform="translate(1594.60 800.07) scale(0.9750 1)" font-size="27" text-anchor="end" fill="#000" style='font-family:"Liberation Sans",Arial,sans-serif;font-weight:bold'>200</text>
<line x1="1597.0" y1="683.2" x2="1607.0" y2="683.2" stroke="#000" stroke-width="4" stroke-linecap="butt"/>
<text transform="translate(1594.60 692.97) scale(0.9750 1)" font-size="27" text-anchor="end" fill="#000" style='font-family:"Liberation Sans",Arial,sans-serif;font-weight:bold'>400</text>
<line x1="1597.0" y1="576.1" x2="1607.0" y2="576.1" stroke="#000" stroke-width="4" stroke-linecap="butt"/>
<text transform="translate(1594.60 585.87) scale(0.9750 1)" font-size="27" text-anchor="end" fill="#000" style='font-family:"Liberation Sans",Arial,sans-serif;font-weight:bold'>600</text>
<line x1="1666.8" y1="897.4" x2="1666.8" y2="908.4" stroke="#000" stroke-width="4" stroke-linecap="butt"/>
<line x1="1635.1" y1="676.8" x2="1635.1" y2="692.5" stroke="#000" stroke-width="3.3" stroke-linecap="round"/>
<line x1="1629.4" y1="676.8" x2="1640.8" y2="676.8" stroke="#000" stroke-width="3.3" stroke-linecap="round"/>
<rect x="1623.7" y="691.0" width="22.8" height="206.4" fill="#9D9D9D"/>
<line x1="1667.6" y1="727.9" x2="1667.6" y2="736.7" stroke="#000" stroke-width="3.3" stroke-linecap="round"/>
<line x1="1661.9" y1="727.9" x2="1673.3" y2="727.9" stroke="#000" stroke-width="3.3" stroke-linecap="round"/>
<rect x="1656.2" y="735.2" width="22.8" height="162.2" fill="#808080"/>
<line x1="1700.2" y1="834.0" x2="1700.2" y2="838.7" stroke="#000" stroke-width="3.3" stroke-linecap="round"/>
<line x1="1694.5" y1="834.0" x2="1705.9" y2="834.0" stroke="#000" stroke-width="3.3" stroke-linecap="round"/>
<rect x="1688.8" y="837.2" width="22.8" height="60.2" fill="#000000"/>
<text transform="translate(1672.50 930.00) rotate(-45) scale(0.9750 1)" font-size="30.5" text-anchor="end" fill="#000" style='font-family:"Liberation Sans",Arial,sans-serif;font-weight:bold'>Primary</text>
<line x1="1788.3" y1="897.4" x2="1788.3" y2="908.4" stroke="#000" stroke-width="4" stroke-linecap="butt"/>
<line x1="1756.0" y1="650.6" x2="1756.0" y2="654.5" stroke="#000" stroke-width="3.3" stroke-linecap="round"/>
<line x1="1750.3" y1="650.6" x2="1761.7" y2="650.6" stroke="#000" stroke-width="3.3" stroke-linecap="round"/>
<rect x="1744.6" y="653.0" width="22.8" height="244.4" fill="#9D9D9D"/>
<line x1="1788.6" y1="704.6" x2="1788.6" y2="709.9" stroke="#000" stroke-width="3.3" stroke-linecap="round"/>
<line x1="1782.9" y1="704.6" x2="1794.3" y2="704.6" stroke="#000" stroke-width="3.3" stroke-linecap="round"/>
<rect x="1777.2" y="708.4" width="22.8" height="189.0" fill="#808080"/>
<line x1="1821.4" y1="765.2" x2="1821.4" y2="780.3" stroke="#000" stroke-width="3.3" stroke-linecap="round"/>
<line x1="1815.7" y1="765.2" x2="1827.1" y2="765.2" stroke="#000" stroke-width="3.3" stroke-linecap="round"/>
<rect x="1810.0" y="778.8" width="22.8" height="118.6" fill="#000000"/>
<text transform="translate(1794.00 930.00) rotate(-45) scale(0.9750 1)" font-size="30.5" text-anchor="end" fill="#000" style='font-family:"Liberation Sans",Arial,sans-serif;font-weight:bold'>Secondry</text>
<line x1="1908.8" y1="897.4" x2="1908.8" y2="908.4" stroke="#000" stroke-width="4" stroke-linecap="butt"/>
<line x1="1876.6" y1="619.0" x2="1876.6" y2="626.2" stroke="#000" stroke-width="3.3" stroke-linecap="round"/>
<line x1="1870.9" y1="619.0" x2="1882.3" y2="619.0" stroke="#000" stroke-width="3.3" stroke-linecap="round"/>
<rect x="1865.2" y="624.7" width="22.8" height="272.7" fill="#9D9D9D"/>
<line x1="1909.2" y1="720.4" x2="1909.2" y2="728.2" stroke="#000" stroke-width="3.3" stroke-linecap="round"/>
<line x1="1903.5" y1="720.4" x2="1914.9" y2="720.4" stroke="#000" stroke-width="3.3" stroke-linecap="round"/>
<rect x="1897.8" y="726.7" width="22.8" height="170.7" fill="#808080"/>
<line x1="1941.7" y1="789.5" x2="1941.7" y2="797.3" stroke="#000" stroke-width="3.3" stroke-linecap="round"/>
<line x1="1936.0" y1="789.5" x2="1947.4" y2="789.5" stroke="#000" stroke-width="3.3" stroke-linecap="round"/>
<rect x="1930.3" y="795.8" width="22.8" height="101.6" fill="#000000"/>
<text transform="translate(1914.50 930.00) rotate(-45) scale(0.9750 1)" font-size="30.5" text-anchor="end" fill="#000" style='font-family:"Liberation Sans",Arial,sans-serif;font-weight:bold'>Tertiary</text>
<text transform="translate(1667.30 726.50)" font-size="27" text-anchor="middle" fill="#000" style='font-family:"Liberation Sans",Arial,sans-serif;font-weight:normal;stroke:#000;stroke-width:0.5'>**</text>
<text transform="translate(1697.30 826.00)" font-size="27" text-anchor="middle" fill="#000" style='font-family:"Liberation Sans",Arial,sans-serif;font-weight:normal;stroke:#000;stroke-width:0.5'>***</text>
<text transform="translate(1788.80 704.50)" font-size="27" text-anchor="middle" fill="#000" style='font-family:"Liberation Sans",Arial,sans-serif;font-weight:normal;stroke:#000;stroke-width:0.5'>**</text>
<text transform="translate(1820.40 764.50)" font-size="27" text-anchor="middle" fill="#000" style='font-family:"Liberation Sans",Arial,sans-serif;font-weight:normal;stroke:#000;stroke-width:0.5'>***</text>
<text transform="translate(1910.40 710.80)" font-size="27" text-anchor="middle" fill="#000" style='font-family:"Liberation Sans",Arial,sans-serif;font-weight:normal;stroke:#000;stroke-width:0.5'>**</text>
<text transform="translate(1942.00 777.10)" font-size="27" text-anchor="middle" fill="#000" style='font-family:"Liberation Sans",Arial,sans-serif;font-weight:normal;stroke:#000;stroke-width:0.5'>**</text>
<text transform="translate(1110.50 566.20) scale(0.9750 1)" font-size="33.5" text-anchor="middle" fill="#000" style='font-family:"Liberation Sans",Arial,sans-serif;font-weight:bold'>Clone 1</text>
<text transform="translate(1789.00 566.70) scale(0.9750 1)" font-size="33.5" text-anchor="middle" fill="#000" style='font-family:"Liberation Sans",Arial,sans-serif;font-weight:bold'>Clone 2</text>
<text transform="translate(809.10 734.50) rotate(-90) scale(0.9770 1)" font-size="34" text-anchor="middle" fill="#000" style='font-family:"Liberation Sans",Arial,sans-serif;font-weight:bold'>Number of colonies</text>
<text transform="translate(849.30 730.40) rotate(-90) scale(0.9600 1)" font-size="34.5" text-anchor="middle" fill="#000" style='font-family:"Liberation Sans",Arial,sans-serif;font-weight:bold'>per 2000 cells seeded</text>
<text transform="translate(1488.30 737.80) rotate(-90) scale(0.9900 1)" font-size="34" text-anchor="middle" fill="#000" style='font-family:"Liberation Sans",Arial,sans-serif;font-weight:bold'>Number of colonies</text>
<text transform="translate(1526.80 733.30) rotate(-90) scale(0.9780 1)" font-size="34.5" text-anchor="middle" fill="#000" style='font-family:"Liberation Sans",Arial,sans-serif;font-weight:bold'>per 2000 cells seeded</text>
<rect x="1298.0" y="593.0" width="42.4" height="19.8" fill="#9D9D9D"/>
<text transform="translate(1358.30 612.30) scale(0.9750 1)" font-size="26.5" text-anchor="start" fill="#000" style='font-family:"Liberation Sans",Arial,sans-serif;font-weight:bold'>shScr</text>
<rect x="1298.0" y="621.1" width="42.4" height="19.5" fill="#808080"/>
<text transform="translate(1358.30 640.80) scale(0.9750 1)" font-size="26.5" text-anchor="start" fill="#000" style='font-family:"Liberation Sans",Arial,sans-serif;font-weight:bold'>sh539</text>
<rect x="1298.0" y="650.6" width="42.4" height="20.0" fill="#000000"/>
<text transform="translate(1358.30 670.20) scale(0.9750 1)" font-size="26.5" text-anchor="start" fill="#000" style='font-family:"Liberation Sans",Arial,sans-serif;font-weight:bold'>sh545</text>
<text transform="translate(21.50 1140.40)" font-size="88" text-anchor="start" fill="#000" style='font-family:"Liberation Sans",Arial,sans-serif;font-weight:bold'>e</text>
<path d="M156.6,1394.5 L156.6,1394.2 L159.2,1393.1 L161.8,1392.1 L164.5,1390.4 L166.6,1389.5 L168.7,1387.5 L170.8,1386.5 L172.9,1385.0 L175.0,1382.1 L177.1,1380.4 L179.7,1380.2 L182.4,1376.7 L185.0,1374.6 L187.6,1374.3 L190.3,1370.9 L192.9,1369.7 L195.0,1367.3 L197.1,1366.1 L199.2,1363.3 L202.4,1369.2 L204.7,1371.4 L207.1,1372.1 L211.0,1371.1 L215.0,1364.6 L217.4,1360.8 L219.7,1360.1 L221.8,1357.0 L223.9,1353.7 L226.0,1350.4 L228.1,1348.2 L230.2,1343.1 L232.3,1339.4 L235.5,1330.3 L239.5,1315.7 L242.9,1300.0 L245.5,1280.0 L248.0,1262.3 L251.8,1233.3 L253.9,1213.5 L256.0,1192.4 L259.3,1185.8 L260.8,1170.7 L263.1,1158.3 L265.3,1151.4 L267.9,1158.8 L269.4,1171.9 L271.0,1191.6 L273.4,1211.1 L276.6,1228.1 L278.9,1250.1 L281.3,1282.3 L284.4,1313.9 L287.6,1350.9 L290.0,1363.8 L292.3,1377.8 L294.7,1384.0 L297.1,1390.6 L300.2,1393.4 L300.2,1394.5 Z" fill="#9A9A9A" stroke="none" stroke-width="1.3"/>
<path d="M153.4,1394.5 L153.4,1394.2 L155.8,1392.2 L158.2,1390.6 L160.5,1387.4 L162.9,1387.1 L165.5,1380.0 L168.1,1372.5 L170.8,1364.3 L173.1,1365.5 L175.5,1365.1 L179.5,1357.1 L182.2,1357.2 L185.0,1357.3 L187.4,1352.9 L189.7,1350.8 L192.1,1344.8 L194.5,1336.3 L197.6,1347.5 L200.8,1351.3 L202.9,1350.2 L205.0,1350.0 L207.1,1350.6 L209.2,1350.3 L211.3,1347.8 L213.4,1348.7 L215.5,1346.2 L217.6,1346.8 L219.7,1344.8 L221.8,1345.6 L223.9,1345.3 L226.0,1343.7 L228.1,1342.2 L230.2,1337.9 L232.3,1334.7 L235.5,1323.4 L239.5,1309.4 L242.9,1298.2 L245.5,1280.0 L248.0,1261.8 L251.8,1232.6 L253.9,1211.7 L256.0,1193.0 L257.6,1189.8 L260.8,1189.2 L263.1,1187.9 L265.3,1185.5 L267.1,1192.0 L268.7,1206.4 L270.2,1213.0 L272.6,1242.8 L275.0,1279.1 L277.3,1306.0 L280.5,1338.4 L282.9,1361.0 L286.0,1376.6 L290.0,1390.0 L292.3,1393.4 L292.3,1394.5 Z" fill="#99CCFF" stroke="none" stroke-width="1.3"/>
<path d="M147.1,1394.5 L147.1,1393.4 L149.5,1392.0 L151.8,1390.0 L154.2,1388.8 L156.6,1389.0 L158.7,1386.3 L160.8,1384.8 L162.9,1381.9 L165.0,1380.8 L167.1,1379.1 L169.2,1375.6 L171.8,1375.0 L174.5,1372.9 L177.1,1369.4 L179.2,1369.7 L181.3,1368.3 L183.4,1367.8 L185.8,1363.8 L188.1,1361.5 L190.3,1359.5 L192.4,1355.7 L194.5,1353.6 L196.6,1353.5 L198.7,1352.7 L200.8,1349.4 L203.1,1347.5 L205.5,1345.4 L208.7,1333.7 L211.0,1338.6 L213.8,1337.7 L216.6,1337.0 L219.7,1334.4 L221.8,1333.7 L223.9,1333.9 L226.0,1334.8 L229.2,1329.9 L231.3,1330.1 L233.4,1329.5 L235.5,1327.4 L237.9,1321.7 L240.2,1317.5 L242.5,1310.2 L244.8,1304.2 L247.0,1298.8 L249.2,1291.0 L251.3,1281.1 L254.1,1261.1 L256.8,1250.1 L260.1,1234.3 L263.9,1214.7 L266.9,1193.3 L268.7,1189.7 L269.4,1199.6 L271.8,1216.1 L275.8,1225.1 L278.1,1242.5 L280.8,1260.9 L282.9,1281.2 L284.4,1299.0 L286.8,1328.7 L289.2,1353.9 L292.3,1369.7 L294.7,1376.0 L297.1,1384.2 L301.0,1391.8 L304.2,1393.8 L304.2,1394.5 Z" fill="#FFCC00" stroke="none" stroke-width="1.3"/>
<path d="M153.4,1394.2 L155.8,1392.2 L158.2,1390.6 L160.5,1387.4 L162.9,1387.1 L165.5,1380.0 L168.1,1372.5 L170.8,1364.3 L173.1,1365.5 L175.5,1365.1 L179.5,1357.1 L182.2,1357.2 L185.0,1357.3 L187.4,1352.9 L189.7,1350.8 L192.1,1344.8 L194.5,1336.3 L197.6,1347.5 L200.8,1351.3 L202.9,1350.2 L205.0,1350.0 L207.1,1350.6 L209.2,1350.3 L211.3,1347.8 L213.4,1348.7 L215.5,1346.2 L217.6,1346.8 L219.7,1344.8 L221.8,1345.6 L223.9,1345.3 L226.0,1343.7 L228.1,1342.2 L230.2,1337.9 L232.3,1334.7 L235.5,1323.4 L239.5,1309.4 L242.9,1298.2 L245.5,1280.0 L248.0,1261.8 L251.8,1232.6 L253.9,1211.7 L256.0,1193.0 L257.6,1189.8 L260.8,1189.2 L263.1,1187.9 L265.3,1185.5 L267.1,1192.0 L268.7,1206.4 L270.2,1213.0 L272.6,1242.8 L275.0,1279.1 L277.3,1306.0 L280.5,1338.4 L282.9,1361.0 L286.0,1376.6 L290.0,1390.0 L292.3,1393.4" fill="none" stroke="#8CC4F2" stroke-width="1.3"/>
<path d="M156.6,1394.2 L159.2,1393.1 L161.8,1392.1 L164.5,1390.4 L166.6,1389.5 L168.7,1387.5 L170.8,1386.5 L172.9,1385.0 L175.0,1382.1 L177.1,1380.4 L179.7,1380.2 L182.4,1376.7 L185.0,1374.6 L187.6,1374.3 L190.3,1370.9 L192.9,1369.7 L195.0,1367.3 L197.1,1366.1 L199.2,1363.3 L202.4,1369.2 L204.7,1371.4 L207.1,1372.1 L211.0,1371.1 L215.0,1364.6 L217.4,1360.8 L219.7,1360.1 L221.8,1357.0 L223.9,1353.7 L226.0,1350.4 L228.1,1348.2 L230.2,1343.1 L232.3,1339.4 L235.5,1330.3 L239.5,1315.7 L242.9,1300.0 L245.5,1280.0 L248.0,1262.3 L251.8,1233.3 L253.9,1213.5 L256.0,1192.4 L259.3,1185.8 L260.8,1170.7 L263.1,1158.3 L265.3,1151.4 L267.9,1158.8 L269.4,1171.9 L271.0,1191.6 L273.4,1211.1 L276.6,1228.1 L278.9,1250.1 L281.3,1282.3 L284.4,1313.9 L287.6,1350.9 L290.0,1363.8 L292.3,1377.8 L294.7,1384.0 L297.1,1390.6 L300.2,1393.4" fill="none" stroke="#7C7C80" stroke-width="1.3"/>
<path d="M130.5,1149.8 L402.8,1149.8 L402.8,1394.5" fill="none" stroke="#333" stroke-width="1.6"/>
<line x1="130.5" y1="1149.3" x2="130.5" y2="1395.5" stroke="#1B2D6B" stroke-width="3"/>
<line x1="124.5" y1="1394.5" x2="403.8" y2="1394.5" stroke="#1B2D6B" stroke-width="3"/>
<line x1="124.5" y1="1149.8" x2="130.5" y2="1149.8" stroke="#1B2D6B" stroke-width="1.6"/>
<line x1="127.0" y1="1165.1" x2="130.5" y2="1165.1" stroke="#1B2D6B" stroke-width="1.6"/>
<line x1="127.0" y1="1180.4" x2="130.5" y2="1180.4" stroke="#1B2D6B" stroke-width="1.6"/>
<line x1="127.0" y1="1195.7" x2="130.5" y2="1195.7" stroke="#1B2D6B" stroke-width="1.6"/>
<line x1="124.5" y1="1211.0" x2="130.5" y2="1211.0" stroke="#1B2D6B" stroke-width="1.6"/>
<line x1="127.0" y1="1226.3" x2="130.5" y2="1226.3" stroke="#1B2D6B" stroke-width="1.6"/>
<line x1="127.0" y1="1241.6" x2="130.5" y2="1241.6" stroke="#1B2D6B" stroke-width="1.6"/>
<line x1="127.0" y1="1256.9" x2="130.5" y2="1256.9" stroke="#1B2D6B" stroke-width="1.6"/>
<line x1="124.5" y1="1272.2" x2="130.5" y2="1272.2" stroke="#1B2D6B" stroke-width="1.6"/>
<line x1="127.0" y1="1287.4" x2="130.5" y2="1287.4" stroke="#1B2D6B" stroke-width="1.6"/>
<line x1="127.0" y1="1302.7" x2="130.5" y2="1302.7" stroke="#1B2D6B" stroke-width="1.6"/>
<line x1="127.0" y1="1318.0" x2="130.5" y2="1318.0" stroke="#1B2D6B" stroke-width="1.6"/>
<line x1="124.5" y1="1333.3" x2="130.5" y2="1333.3" stroke="#1B2D6B" stroke-width="1.6"/>
<line x1="127.0" y1="1348.6" x2="130.5" y2="1348.6" stroke="#1B2D6B" stroke-width="1.6"/>
<line x1="127.0" y1="1363.9" x2="130.5" y2="1363.9" stroke="#1B2D6B" stroke-width="1.6"/>
<line x1="127.0" y1="1379.2" x2="130.5" y2="1379.2" stroke="#1B2D6B" stroke-width="1.6"/>
<line x1="124.5" y1="1394.5" x2="130.5" y2="1394.5" stroke="#1B2D6B" stroke-width="1.6"/>
<text x="119.5" y="1155.3" font-size="15.5" text-anchor="end" fill="#35359A" style='font-family:"DejaVu Sans",Verdana,sans-serif'>7</text>
<text x="119.5" y="1216.5" font-size="15.5" text-anchor="end" fill="#35359A" style='font-family:"DejaVu Sans",Verdana,sans-serif'>5</text>
<text x="119.5" y="1277.7" font-size="15.5" text-anchor="end" fill="#35359A" style='font-family:"DejaVu Sans",Verdana,sans-serif'>3</text>
<text x="119.5" y="1338.8" font-size="15.5" text-anchor="end" fill="#35359A" style='font-family:"DejaVu Sans",Verdana,sans-serif'>2</text>
<text x="119.5" y="1400.0" font-size="15.5" text-anchor="end" fill="#35359A" style='font-family:"DejaVu Sans",Verdana,sans-serif'>0</text>
<line x1="188.1" y1="1394.5" x2="188.1" y2="1402.5" stroke="#1B2D6B" stroke-width="1.6"/>
<line x1="252.1" y1="1394.5" x2="252.1" y2="1402.5" stroke="#1B2D6B" stroke-width="1.6"/>
<line x1="314.4" y1="1394.5" x2="314.4" y2="1402.5" stroke="#1B2D6B" stroke-width="1.6"/>
<line x1="376.8" y1="1394.5" x2="376.8" y2="1402.5" stroke="#1B2D6B" stroke-width="1.6"/>
<line x1="207.1" y1="1394.5" x2="207.1" y2="1399.5" stroke="#1B2D6B" stroke-width="1.3"/>
<line x1="218.2" y1="1394.5" x2="218.2" y2="1399.5" stroke="#1B2D6B" stroke-width="1.3"/>
<line x1="226.0" y1="1394.5" x2="226.0" y2="1399.5" stroke="#1B2D6B" stroke-width="1.3"/>
<line x1="232.1" y1="1394.5" x2="232.1" y2="1399.5" stroke="#1B2D6B" stroke-width="1.3"/>
<line x1="237.1" y1="1394.5" x2="237.1" y2="1399.5" stroke="#1B2D6B" stroke-width="1.3"/>
<line x1="241.3" y1="1394.5" x2="241.3" y2="1399.5" stroke="#1B2D6B" stroke-width="1.3"/>
<line x1="245.0" y1="1394.5" x2="245.0" y2="1399.5" stroke="#1B2D6B" stroke-width="1.3"/>
<line x1="248.2" y1="1394.5" x2="248.2" y2="1399.5" stroke="#1B2D6B" stroke-width="1.3"/>
<line x1="271.1" y1="1394.5" x2="271.1" y2="1399.5" stroke="#1B2D6B" stroke-width="1.3"/>
<line x1="282.2" y1="1394.5" x2="282.2" y2="1399.5" stroke="#1B2D6B" stroke-width="1.3"/>
<line x1="290.0" y1="1394.5" x2="290.0" y2="1399.5" stroke="#1B2D6B" stroke-width="1.3"/>
<line x1="296.1" y1="1394.5" x2="296.1" y2="1399.5" stroke="#1B2D6B" stroke-width="1.3"/>
<line x1="301.1" y1="1394.5" x2="301.1" y2="1399.5" stroke="#1B2D6B" stroke-width="1.3"/>
<line x1="305.3" y1="1394.5" x2="305.3" y2="1399.5" stroke="#1B2D6B" stroke-width="1.3"/>
<line x1="309.0" y1="1394.5" x2="309.0" y2="1399.5" stroke="#1B2D6B" stroke-width="1.3"/>
<line x1="312.2" y1="1394.5" x2="312.2" y2="1399.5" stroke="#1B2D6B" stroke-width="1.3"/>
<line x1="333.4" y1="1394.5" x2="333.4" y2="1399.5" stroke="#1B2D6B" stroke-width="1.3"/>
<line x1="344.5" y1="1394.5" x2="344.5" y2="1399.5" stroke="#1B2D6B" stroke-width="1.3"/>
<line x1="352.3" y1="1394.5" x2="352.3" y2="1399.5" stroke="#1B2D6B" stroke-width="1.3"/>
<line x1="358.4" y1="1394.5" x2="358.4" y2="1399.5" stroke="#1B2D6B" stroke-width="1.3"/>
<line x1="363.4" y1="1394.5" x2="363.4" y2="1399.5" stroke="#1B2D6B" stroke-width="1.3"/>
<line x1="367.6" y1="1394.5" x2="367.6" y2="1399.5" stroke="#1B2D6B" stroke-width="1.3"/>
<line x1="371.3" y1="1394.5" x2="371.3" y2="1399.5" stroke="#1B2D6B" stroke-width="1.3"/>
<line x1="374.5" y1="1394.5" x2="374.5" y2="1399.5" stroke="#1B2D6B" stroke-width="1.3"/>
<line x1="395.8" y1="1394.5" x2="395.8" y2="1399.5" stroke="#1B2D6B" stroke-width="1.3"/>
<line x1="140.8" y1="1394.5" x2="140.8" y2="1399.5" stroke="#1B2D6B" stroke-width="1.3"/>
<line x1="143.0" y1="1394.5" x2="143.0" y2="1399.5" stroke="#1B2D6B" stroke-width="1.3"/>
<line x1="145.0" y1="1394.5" x2="145.0" y2="1399.5" stroke="#1B2D6B" stroke-width="1.3"/>
<line x1="147.0" y1="1394.5" x2="147.0" y2="1399.5" stroke="#1B2D6B" stroke-width="1.3"/>
<line x1="150.0" y1="1394.5" x2="150.0" y2="1399.5" stroke="#1B2D6B" stroke-width="1.3"/>
<line x1="153.0" y1="1394.5" x2="153.0" y2="1399.5" stroke="#1B2D6B" stroke-width="1.3"/>
<line x1="156.0" y1="1394.5" x2="156.0" y2="1399.5" stroke="#1B2D6B" stroke-width="1.3"/>
<line x1="160.0" y1="1394.5" x2="160.0" y2="1399.5" stroke="#1B2D6B" stroke-width="1.3"/>
<line x1="163.0" y1="1394.5" x2="163.0" y2="1399.5" stroke="#1B2D6B" stroke-width="1.3"/>
<line x1="166.0" y1="1394.5" x2="166.0" y2="1399.5" stroke="#1B2D6B" stroke-width="1.3"/>
<line x1="170.0" y1="1394.5" x2="170.0" y2="1399.5" stroke="#1B2D6B" stroke-width="1.3"/>
<line x1="173.0" y1="1394.5" x2="173.0" y2="1399.5" stroke="#1B2D6B" stroke-width="1.3"/>
<line x1="176.0" y1="1394.5" x2="176.0" y2="1399.5" stroke="#1B2D6B" stroke-width="1.3"/>
<line x1="180.0" y1="1394.5" x2="180.0" y2="1399.5" stroke="#1B2D6B" stroke-width="1.3"/>
<line x1="183.0" y1="1394.5" x2="183.0" y2="1399.5" stroke="#1B2D6B" stroke-width="1.3"/>
<path d="M161.3,1656.8 L161.3,1656.0 L163.6,1655.9 L165.8,1655.8 L168.1,1655.7 L170.3,1655.6 L172.6,1655.4 L174.8,1655.3 L177.1,1655.2 L179.1,1655.1 L181.2,1655.0 L183.2,1654.9 L185.2,1654.8 L187.2,1654.7 L189.3,1654.5 L191.3,1654.4 L193.6,1654.3 L195.8,1654.2 L198.1,1654.1 L200.3,1654.0 L202.6,1653.9 L204.8,1654.5 L207.1,1654.0 L209.2,1653.3 L211.3,1651.2 L213.4,1649.6 L215.5,1648.4 L217.6,1648.0 L219.7,1645.2 L221.8,1643.8 L223.9,1642.4 L226.0,1640.8 L228.1,1639.7 L230.2,1639.9 L232.3,1637.0 L235.5,1638.2 L237.9,1635.8 L240.2,1630.9 L242.6,1628.8 L245.0,1625.1 L248.1,1607.4 L251.3,1586.8 L253.7,1575.6 L256.0,1567.4 L259.2,1543.9 L262.3,1524.6 L263.9,1502.1 L265.5,1489.0 L267.9,1467.0 L269.4,1444.6 L271.8,1428.8 L274.2,1440.7 L276.6,1454.2 L278.9,1471.3 L280.5,1485.2 L282.9,1504.6 L284.4,1523.1 L286.8,1555.2 L289.2,1582.0 L291.5,1607.2 L293.9,1625.4 L297.1,1639.8 L300.2,1652.7 L302.6,1656.3 L302.6,1656.8 Z" fill="#9A9A9A" stroke="none" stroke-width="1.3"/>
<path d="M162.9,1656.8 L162.9,1656.0 L165.3,1655.4 L167.6,1654.8 L170.0,1654.2 L172.4,1652.9 L174.5,1652.1 L176.6,1651.9 L178.7,1650.5 L180.8,1649.8 L182.9,1650.5 L185.0,1649.2 L187.4,1648.3 L189.7,1647.9 L192.1,1649.2 L194.5,1648.1 L196.6,1647.5 L198.7,1645.1 L200.8,1643.4 L202.9,1643.2 L205.0,1642.8 L207.1,1640.2 L209.2,1640.7 L211.3,1639.9 L213.4,1638.6 L215.5,1638.1 L217.6,1635.6 L219.7,1636.6 L222.1,1634.0 L224.5,1628.9 L226.8,1627.0 L229.2,1624.7 L231.3,1624.8 L233.4,1624.0 L235.5,1623.6 L237.6,1621.2 L239.7,1616.1 L241.8,1613.1 L244.2,1609.3 L246.6,1605.4 L248.9,1597.4 L251.3,1591.6 L253.7,1578.7 L256.0,1564.2 L260.0,1530.5 L263.1,1509.5 L265.5,1490.6 L268.7,1471.7 L271.8,1462.2 L274.2,1473.9 L276.6,1490.7 L278.9,1507.7 L281.3,1530.1 L283.7,1553.3 L286.0,1578.0 L288.4,1602.1 L290.8,1621.8 L293.9,1636.8 L297.1,1646.6 L301.0,1656.3 L301.0,1656.8 Z" fill="#99CCFF" stroke="none" stroke-width="1.3"/>
<path d="M147.1,1656.8 L147.1,1656.0 L149.2,1654.7 L151.3,1653.1 L153.4,1652.3 L156.0,1651.7 L158.7,1649.7 L161.3,1649.6 L163.7,1647.6 L166.0,1645.6 L168.1,1644.9 L170.3,1644.7 L172.4,1644.7 L175.5,1639.2 L177.6,1638.8 L179.7,1637.2 L181.8,1635.7 L183.9,1635.8 L186.0,1635.7 L188.1,1633.7 L190.5,1632.1 L192.9,1629.8 L195.0,1630.9 L197.1,1631.0 L199.2,1629.7 L201.8,1630.1 L204.5,1629.1 L207.1,1627.0 L209.2,1627.2 L211.3,1626.2 L213.4,1627.6 L215.5,1627.7 L217.6,1628.8 L219.7,1629.1 L221.8,1627.2 L223.9,1625.8 L226.0,1623.8 L228.4,1621.9 L230.8,1622.3 L233.9,1611.4 L236.3,1609.4 L238.7,1608.5 L241.0,1602.8 L243.4,1599.0 L246.6,1589.5 L248.9,1585.1 L251.3,1577.1 L253.7,1568.8 L256.0,1562.9 L259.2,1545.4 L260.8,1532.9 L262.3,1516.7 L264.7,1509.2 L267.1,1508.7 L269.4,1507.0 L271.8,1506.8 L273.4,1513.6 L275.0,1528.0 L277.3,1541.6 L278.9,1557.9 L281.3,1573.8 L282.9,1594.2 L286.0,1618.4 L289.2,1632.1 L292.3,1643.7 L295.5,1652.2 L298.7,1655.2 L301.8,1656.5 L301.8,1656.8 Z" fill="#FFCC00" stroke="none" stroke-width="1.3"/>
<path d="M162.9,1656.0 L165.3,1655.4 L167.6,1654.8 L170.0,1654.2 L172.4,1652.9 L174.5,1652.1 L176.6,1651.9 L178.7,1650.5 L180.8,1649.8 L182.9,1650.5 L185.0,1649.2 L187.4,1648.3 L189.7,1647.9 L192.1,1649.2 L194.5,1648.1 L196.6,1647.5 L198.7,1645.1 L200.8,1643.4 L202.9,1643.2 L205.0,1642.8 L207.1,1640.2 L209.2,1640.7 L211.3,1639.9 L213.4,1638.6 L215.5,1638.1 L217.6,1635.6 L219.7,1636.6 L222.1,1634.0 L224.5,1628.9 L226.8,1627.0 L229.2,1624.7 L231.3,1624.8 L233.4,1624.0 L235.5,1623.6 L237.6,1621.2 L239.7,1616.1 L241.8,1613.1 L244.2,1609.3 L246.6,1605.4 L248.9,1597.4 L251.3,1591.6 L253.7,1578.7 L256.0,1564.2 L260.0,1530.5 L263.1,1509.5 L265.5,1490.6 L268.7,1471.7 L271.8,1462.2 L274.2,1473.9 L276.6,1490.7 L278.9,1507.7 L281.3,1530.1 L283.7,1553.3 L286.0,1578.0 L288.4,1602.1 L290.8,1621.8 L293.9,1636.8 L297.1,1646.6 L301.0,1656.3" fill="none" stroke="#8CC4F2" stroke-width="1.3"/>
<path d="M161.3,1656.0 L163.6,1655.9 L165.8,1655.8 L168.1,1655.7 L170.3,1655.6 L172.6,1655.4 L174.8,1655.3 L177.1,1655.2 L179.1,1655.1 L181.2,1655.0 L183.2,1654.9 L185.2,1654.8 L187.2,1654.7 L189.3,1654.5 L191.3,1654.4 L193.6,1654.3 L195.8,1654.2 L198.1,1654.1 L200.3,1654.0 L202.6,1653.9 L204.8,1654.5 L207.1,1654.0 L209.2,1653.3 L211.3,1651.2 L213.4,1649.6 L215.5,1648.4 L217.6,1648.0 L219.7,1645.2 L221.8,1643.8 L223.9,1642.4 L226.0,1640.8 L228.1,1639.7 L230.2,1639.9 L232.3,1637.0 L235.5,1638.2 L237.9,1635.8 L240.2,1630.9 L242.6,1628.8 L245.0,1625.1 L248.1,1607.4 L251.3,1586.8 L253.7,1575.6 L256.0,1567.4 L259.2,1543.9 L262.3,1524.6 L263.9,1502.1 L265.5,1489.0 L267.9,1467.0 L269.4,1444.6 L271.8,1428.8 L274.2,1440.7 L276.6,1454.2 L278.9,1471.3 L280.5,1485.2 L282.9,1504.6 L284.4,1523.1 L286.8,1555.2 L289.2,1582.0 L291.5,1607.2 L293.9,1625.4 L297.1,1639.8 L300.2,1652.7 L302.6,1656.3" fill="none" stroke="#7C7C80" stroke-width="1.3"/>
<path d="M129.7,1429.2 L404.7,1429.2 L404.7,1656.8" fill="none" stroke="#333" stroke-width="1.6"/>
<line x1="129.7" y1="1428.7" x2="129.7" y2="1657.8" stroke="#1B2D6B" stroke-width="3"/>
<line x1="123.7" y1="1656.8" x2="405.7" y2="1656.8" stroke="#1B2D6B" stroke-width="3"/>
<line x1="123.7" y1="1429.2" x2="129.7" y2="1429.2" stroke="#1B2D6B" stroke-width="1.6"/>
<line x1="126.2" y1="1443.4" x2="129.7" y2="1443.4" stroke="#1B2D6B" stroke-width="1.6"/>
<line x1="126.2" y1="1457.7" x2="129.7" y2="1457.7" stroke="#1B2D6B" stroke-width="1.6"/>
<line x1="126.2" y1="1471.9" x2="129.7" y2="1471.9" stroke="#1B2D6B" stroke-width="1.6"/>
<line x1="123.7" y1="1486.1" x2="129.7" y2="1486.1" stroke="#1B2D6B" stroke-width="1.6"/>
<line x1="126.2" y1="1500.3" x2="129.7" y2="1500.3" stroke="#1B2D6B" stroke-width="1.6"/>
<line x1="126.2" y1="1514.5" x2="129.7" y2="1514.5" stroke="#1B2D6B" stroke-width="1.6"/>
<line x1="126.2" y1="1528.8" x2="129.7" y2="1528.8" stroke="#1B2D6B" stroke-width="1.6"/>
<line x1="123.7" y1="1543.0" x2="129.7" y2="1543.0" stroke="#1B2D6B" stroke-width="1.6"/>
<line x1="126.2" y1="1557.2" x2="129.7" y2="1557.2" stroke="#1B2D6B" stroke-width="1.6"/>
<line x1="126.2" y1="1571.5" x2="129.7" y2="1571.5" stroke="#1B2D6B" stroke-width="1.6"/>
<line x1="126.2" y1="1585.7" x2="129.7" y2="1585.7" stroke="#1B2D6B" stroke-width="1.6"/>
<line x1="123.7" y1="1599.9" x2="129.7" y2="1599.9" stroke="#1B2D6B" stroke-width="1.6"/>
<line x1="126.2" y1="1614.1" x2="129.7" y2="1614.1" stroke="#1B2D6B" stroke-width="1.6"/>
<line x1="126.2" y1="1628.3" x2="129.7" y2="1628.3" stroke="#1B2D6B" stroke-width="1.6"/>
<line x1="126.2" y1="1642.6" x2="129.7" y2="1642.6" stroke="#1B2D6B" stroke-width="1.6"/>
<line x1="123.7" y1="1656.8" x2="129.7" y2="1656.8" stroke="#1B2D6B" stroke-width="1.6"/>
<text x="118.7" y="1434.7" font-size="15.5" text-anchor="end" fill="#35359A" style='font-family:"DejaVu Sans",Verdana,sans-serif'>9</text>
<text x="118.7" y="1491.6" font-size="15.5" text-anchor="end" fill="#35359A" style='font-family:"DejaVu Sans",Verdana,sans-serif'>7</text>
<text x="118.7" y="1548.5" font-size="15.5" text-anchor="end" fill="#35359A" style='font-family:"DejaVu Sans",Verdana,sans-serif'>4</text>
<text x="118.7" y="1605.4" font-size="15.5" text-anchor="end" fill="#35359A" style='font-family:"DejaVu Sans",Verdana,sans-serif'>2</text>
<text x="118.7" y="1662.3" font-size="15.5" text-anchor="end" fill="#35359A" style='font-family:"DejaVu Sans",Verdana,sans-serif'>0</text>
<line x1="182.6" y1="1656.8" x2="182.6" y2="1664.8" stroke="#1B2D6B" stroke-width="1.6"/>
<line x1="247.3" y1="1656.8" x2="247.3" y2="1664.8" stroke="#1B2D6B" stroke-width="1.6"/>
<line x1="315.2" y1="1656.8" x2="315.2" y2="1664.8" stroke="#1B2D6B" stroke-width="1.6"/>
<line x1="377.6" y1="1656.8" x2="377.6" y2="1664.8" stroke="#1B2D6B" stroke-width="1.6"/>
<line x1="202.2" y1="1656.8" x2="202.2" y2="1661.8" stroke="#1B2D6B" stroke-width="1.3"/>
<line x1="213.6" y1="1656.8" x2="213.6" y2="1661.8" stroke="#1B2D6B" stroke-width="1.3"/>
<line x1="221.7" y1="1656.8" x2="221.7" y2="1661.8" stroke="#1B2D6B" stroke-width="1.3"/>
<line x1="228.0" y1="1656.8" x2="228.0" y2="1661.8" stroke="#1B2D6B" stroke-width="1.3"/>
<line x1="233.2" y1="1656.8" x2="233.2" y2="1661.8" stroke="#1B2D6B" stroke-width="1.3"/>
<line x1="237.5" y1="1656.8" x2="237.5" y2="1661.8" stroke="#1B2D6B" stroke-width="1.3"/>
<line x1="241.3" y1="1656.8" x2="241.3" y2="1661.8" stroke="#1B2D6B" stroke-width="1.3"/>
<line x1="244.6" y1="1656.8" x2="244.6" y2="1661.8" stroke="#1B2D6B" stroke-width="1.3"/>
<line x1="266.9" y1="1656.8" x2="266.9" y2="1661.8" stroke="#1B2D6B" stroke-width="1.3"/>
<line x1="278.3" y1="1656.8" x2="278.3" y2="1661.8" stroke="#1B2D6B" stroke-width="1.3"/>
<line x1="286.4" y1="1656.8" x2="286.4" y2="1661.8" stroke="#1B2D6B" stroke-width="1.3"/>
<line x1="292.7" y1="1656.8" x2="292.7" y2="1661.8" stroke="#1B2D6B" stroke-width="1.3"/>
<line x1="297.9" y1="1656.8" x2="297.9" y2="1661.8" stroke="#1B2D6B" stroke-width="1.3"/>
<line x1="302.2" y1="1656.8" x2="302.2" y2="1661.8" stroke="#1B2D6B" stroke-width="1.3"/>
<line x1="306.0" y1="1656.8" x2="306.0" y2="1661.8" stroke="#1B2D6B" stroke-width="1.3"/>
<line x1="309.3" y1="1656.8" x2="309.3" y2="1661.8" stroke="#1B2D6B" stroke-width="1.3"/>
<line x1="334.8" y1="1656.8" x2="334.8" y2="1661.8" stroke="#1B2D6B" stroke-width="1.3"/>
<line x1="346.2" y1="1656.8" x2="346.2" y2="1661.8" stroke="#1B2D6B" stroke-width="1.3"/>
<line x1="354.3" y1="1656.8" x2="354.3" y2="1661.8" stroke="#1B2D6B" stroke-width="1.3"/>
<line x1="360.6" y1="1656.8" x2="360.6" y2="1661.8" stroke="#1B2D6B" stroke-width="1.3"/>
<line x1="365.8" y1="1656.8" x2="365.8" y2="1661.8" stroke="#1B2D6B" stroke-width="1.3"/>
<line x1="370.1" y1="1656.8" x2="370.1" y2="1661.8" stroke="#1B2D6B" stroke-width="1.3"/>
<line x1="373.9" y1="1656.8" x2="373.9" y2="1661.8" stroke="#1B2D6B" stroke-width="1.3"/>
<line x1="377.2" y1="1656.8" x2="377.2" y2="1661.8" stroke="#1B2D6B" stroke-width="1.3"/>
<line x1="397.2" y1="1656.8" x2="397.2" y2="1661.8" stroke="#1B2D6B" stroke-width="1.3"/>
<line x1="142.4" y1="1656.8" x2="142.4" y2="1661.8" stroke="#1B2D6B" stroke-width="1.3"/>
<line x1="145.0" y1="1656.8" x2="145.0" y2="1661.8" stroke="#1B2D6B" stroke-width="1.3"/>
<line x1="148.0" y1="1656.8" x2="148.0" y2="1661.8" stroke="#1B2D6B" stroke-width="1.3"/>
<line x1="151.0" y1="1656.8" x2="151.0" y2="1661.8" stroke="#1B2D6B" stroke-width="1.3"/>
<line x1="154.0" y1="1656.8" x2="154.0" y2="1661.8" stroke="#1B2D6B" stroke-width="1.3"/>
<line x1="157.0" y1="1656.8" x2="157.0" y2="1661.8" stroke="#1B2D6B" stroke-width="1.3"/>
<line x1="160.0" y1="1656.8" x2="160.0" y2="1661.8" stroke="#1B2D6B" stroke-width="1.3"/>
<line x1="163.0" y1="1656.8" x2="163.0" y2="1661.8" stroke="#1B2D6B" stroke-width="1.3"/>
<line x1="166.0" y1="1656.8" x2="166.0" y2="1661.8" stroke="#1B2D6B" stroke-width="1.3"/>
<line x1="169.0" y1="1656.8" x2="169.0" y2="1661.8" stroke="#1B2D6B" stroke-width="1.3"/>
<line x1="172.0" y1="1656.8" x2="172.0" y2="1661.8" stroke="#1B2D6B" stroke-width="1.3"/>
<line x1="175.0" y1="1656.8" x2="175.0" y2="1661.8" stroke="#1B2D6B" stroke-width="1.3"/>
<line x1="178.0" y1="1656.8" x2="178.0" y2="1661.8" stroke="#1B2D6B" stroke-width="1.3"/>
<path d="M615.8,1396.8 L615.8,1396.0 L617.9,1395.0 L620.0,1393.9 L622.1,1393.6 L624.5,1388.3 L626.8,1384.2 L630.0,1381.2 L633.2,1378.9 L636.3,1372.9 L639.5,1357.9 L642.6,1354.6 L645.8,1348.4 L648.1,1344.3 L650.5,1340.6 L652.9,1338.2 L655.3,1337.6 L657.6,1336.4 L660.0,1332.7 L663.1,1331.9 L665.5,1333.2 L667.9,1337.3 L671.0,1327.2 L673.4,1324.6 L675.8,1321.9 L678.1,1321.0 L680.5,1320.6 L683.7,1319.6 L686.0,1305.2 L690.0,1298.7 L693.1,1287.7 L695.5,1272.3 L697.9,1265.0 L700.2,1258.5 L701.0,1237.1 L703.4,1224.8 L705.8,1215.5 L708.9,1198.0 L712.1,1184.7 L714.5,1168.2 L716.0,1165.7 L717.6,1177.0 L720.0,1184.0 L722.3,1171.3 L723.9,1185.0 L725.5,1203.2 L727.9,1224.8 L729.4,1255.7 L731.0,1278.6 L732.6,1302.2 L734.2,1317.5 L735.0,1337.5 L736.6,1349.9 L738.9,1365.2 L741.3,1381.5 L743.7,1390.8 L745.2,1396.8 L745.2,1396.8 Z" fill="#9A9A9A" stroke="none" stroke-width="1.3"/>
<path d="M691.6,1396.8 L691.6,1396.8 L693.7,1396.3 L695.8,1395.7 L697.9,1395.2 L700.0,1394.2 L702.1,1393.8 L704.2,1391.2 L706.3,1391.7 L708.4,1388.9 L710.5,1387.6 L712.9,1383.3 L715.2,1380.2 L717.6,1373.9 L720.0,1366.9 L722.3,1361.2 L724.7,1356.3 L727.9,1351.9 L731.0,1342.9 L734.2,1327.1 L737.3,1311.9 L740.5,1287.0 L743.7,1269.1 L746.8,1254.9 L748.4,1240.2 L751.6,1216.5 L753.1,1201.4 L755.5,1185.3 L757.9,1160.2 L760.2,1153.7 L762.6,1157.0 L765.0,1153.7 L767.3,1158.1 L770.5,1169.5 L773.7,1182.3 L776.8,1191.8 L780.0,1209.0 L782.3,1223.5 L785.5,1239.5 L787.9,1263.9 L791.0,1286.1 L794.2,1309.8 L797.3,1335.2 L800.5,1343.4 L803.6,1357.8 L806.8,1369.4 L809.2,1375.1 L811.5,1379.0 L813.9,1384.6 L816.3,1389.5 L818.6,1393.2 L821.0,1396.8 L821.0,1396.8 Z" fill="#99CCFF" stroke="none" stroke-width="1.3"/>
<path d="M691.6,1396.8 L691.6,1396.8 L693.7,1396.3 L695.8,1395.7 L697.9,1395.2 L700.0,1394.2 L702.1,1392.4 L704.2,1392.3 L706.3,1391.6 L708.4,1388.6 L710.5,1387.4 L712.9,1382.5 L715.2,1378.9 L717.6,1373.5 L720.0,1365.9 L722.3,1362.2 L724.7,1356.7 L727.9,1350.0 L731.0,1344.2 L734.2,1326.2 L737.3,1311.4 L740.5,1287.7 L743.7,1269.2 L746.8,1255.9 L748.4,1240.1 L751.6,1216.8 L753.1,1199.7 L755.5,1185.1 L757.9,1165.1 L760.2,1154.9 L762.6,1157.7 L765.0,1153.5 L767.3,1157.6 L769.7,1168.3 L772.1,1181.8 L775.2,1192.8 L778.4,1208.3 L780.8,1223.2 L783.9,1240.1 L786.3,1263.7 L789.4,1286.3 L792.6,1311.7 L795.8,1334.8 L798.9,1343.0 L802.1,1359.2 L805.2,1368.3 L807.6,1374.3 L810.0,1380.7 L812.3,1385.2 L814.7,1389.8 L817.1,1393.6 L819.4,1396.8 L819.4,1396.8 Z" fill="#CC99FF" stroke="none" stroke-width="1.3"/>
<path d="M657.6,1336.4 L660.0,1332.7 L663.1,1331.9 L665.5,1333.2 L667.9,1337.3 L671.0,1327.2 L673.4,1324.6 L675.8,1321.9 L678.1,1321.0 L680.5,1320.6 L683.7,1319.6 L686.0,1305.2 L690.0,1298.7 L693.1,1287.7 L695.5,1272.3 L697.9,1265.0 L700.2,1258.5 L701.0,1237.1 L703.4,1224.8 L705.8,1215.5 L708.9,1198.0 L712.1,1184.7 L714.5,1168.2 L716.0,1165.7 L717.6,1177.0 L720.0,1184.0 L722.3,1171.3 L723.9,1185.0 L725.5,1203.2 L727.9,1224.8 L729.4,1255.7 L731.0,1278.6 L732.6,1302.2 L734.2,1317.5 L735.0,1337.5 L736.6,1349.9 L738.9,1365.2 L741.3,1381.5 L743.7,1390.8 L745.2,1396.8" fill="none" stroke="#7C7C80" stroke-width="1.3"/>
<path d="M610.3,1154.5 L880.2,1154.5 L880.2,1396.8" fill="none" stroke="#333" stroke-width="1.6"/>
<line x1="610.3" y1="1154.0" x2="610.3" y2="1397.8" stroke="#1B2D6B" stroke-width="3"/>
<line x1="604.3" y1="1396.8" x2="881.2" y2="1396.8" stroke="#1B2D6B" stroke-width="3"/>
<line x1="604.3" y1="1154.5" x2="610.3" y2="1154.5" stroke="#1B2D6B" stroke-width="1.6"/>
<line x1="606.8" y1="1169.6" x2="610.3" y2="1169.6" stroke="#1B2D6B" stroke-width="1.6"/>
<line x1="606.8" y1="1184.8" x2="610.3" y2="1184.8" stroke="#1B2D6B" stroke-width="1.6"/>
<line x1="606.8" y1="1199.9" x2="610.3" y2="1199.9" stroke="#1B2D6B" stroke-width="1.6"/>
<line x1="604.3" y1="1215.1" x2="610.3" y2="1215.1" stroke="#1B2D6B" stroke-width="1.6"/>
<line x1="606.8" y1="1230.2" x2="610.3" y2="1230.2" stroke="#1B2D6B" stroke-width="1.6"/>
<line x1="606.8" y1="1245.4" x2="610.3" y2="1245.4" stroke="#1B2D6B" stroke-width="1.6"/>
<line x1="606.8" y1="1260.5" x2="610.3" y2="1260.5" stroke="#1B2D6B" stroke-width="1.6"/>
<line x1="604.3" y1="1275.7" x2="610.3" y2="1275.7" stroke="#1B2D6B" stroke-width="1.6"/>
<line x1="606.8" y1="1290.8" x2="610.3" y2="1290.8" stroke="#1B2D6B" stroke-width="1.6"/>
<line x1="606.8" y1="1305.9" x2="610.3" y2="1305.9" stroke="#1B2D6B" stroke-width="1.6"/>
<line x1="606.8" y1="1321.1" x2="610.3" y2="1321.1" stroke="#1B2D6B" stroke-width="1.6"/>
<line x1="604.3" y1="1336.2" x2="610.3" y2="1336.2" stroke="#1B2D6B" stroke-width="1.6"/>
<line x1="606.8" y1="1351.4" x2="610.3" y2="1351.4" stroke="#1B2D6B" stroke-width="1.6"/>
<line x1="606.8" y1="1366.5" x2="610.3" y2="1366.5" stroke="#1B2D6B" stroke-width="1.6"/>
<line x1="606.8" y1="1381.7" x2="610.3" y2="1381.7" stroke="#1B2D6B" stroke-width="1.6"/>
<line x1="604.3" y1="1396.8" x2="610.3" y2="1396.8" stroke="#1B2D6B" stroke-width="1.6"/>
<text x="599.3" y="1160.0" font-size="15.5" text-anchor="end" fill="#35359A" style='font-family:"DejaVu Sans",Verdana,sans-serif'>5</text>
<text x="599.3" y="1220.6" font-size="15.5" text-anchor="end" fill="#35359A" style='font-family:"DejaVu Sans",Verdana,sans-serif'>3</text>
<text x="599.3" y="1281.2" font-size="15.5" text-anchor="end" fill="#35359A" style='font-family:"DejaVu Sans",Verdana,sans-serif'>2</text>
<text x="599.3" y="1341.7" font-size="15.5" text-anchor="end" fill="#35359A" style='font-family:"DejaVu Sans",Verdana,sans-serif'>1</text>
<text x="599.3" y="1402.3" font-size="15.5" text-anchor="end" fill="#35359A" style='font-family:"DejaVu Sans",Verdana,sans-serif'>0</text>
<line x1="650.5" y1="1396.8" x2="650.5" y2="1404.8" stroke="#1B2D6B" stroke-width="1.6"/>
<line x1="702.6" y1="1396.8" x2="702.6" y2="1404.8" stroke="#1B2D6B" stroke-width="1.6"/>
<line x1="755.5" y1="1396.8" x2="755.5" y2="1404.8" stroke="#1B2D6B" stroke-width="1.6"/>
<line x1="804.4" y1="1396.8" x2="804.4" y2="1404.8" stroke="#1B2D6B" stroke-width="1.6"/>
<line x1="852.6" y1="1396.8" x2="852.6" y2="1404.8" stroke="#1B2D6B" stroke-width="1.6"/>
<line x1="665.9" y1="1396.8" x2="665.9" y2="1401.8" stroke="#1B2D6B" stroke-width="1.3"/>
<line x1="674.8" y1="1396.8" x2="674.8" y2="1401.8" stroke="#1B2D6B" stroke-width="1.3"/>
<line x1="681.2" y1="1396.8" x2="681.2" y2="1401.8" stroke="#1B2D6B" stroke-width="1.3"/>
<line x1="686.1" y1="1396.8" x2="686.1" y2="1401.8" stroke="#1B2D6B" stroke-width="1.3"/>
<line x1="690.2" y1="1396.8" x2="690.2" y2="1401.8" stroke="#1B2D6B" stroke-width="1.3"/>
<line x1="693.6" y1="1396.8" x2="693.6" y2="1401.8" stroke="#1B2D6B" stroke-width="1.3"/>
<line x1="696.6" y1="1396.8" x2="696.6" y2="1401.8" stroke="#1B2D6B" stroke-width="1.3"/>
<line x1="699.2" y1="1396.8" x2="699.2" y2="1401.8" stroke="#1B2D6B" stroke-width="1.3"/>
<line x1="718.0" y1="1396.8" x2="718.0" y2="1401.8" stroke="#1B2D6B" stroke-width="1.3"/>
<line x1="726.9" y1="1396.8" x2="726.9" y2="1401.8" stroke="#1B2D6B" stroke-width="1.3"/>
<line x1="733.3" y1="1396.8" x2="733.3" y2="1401.8" stroke="#1B2D6B" stroke-width="1.3"/>
<line x1="738.2" y1="1396.8" x2="738.2" y2="1401.8" stroke="#1B2D6B" stroke-width="1.3"/>
<line x1="742.3" y1="1396.8" x2="742.3" y2="1401.8" stroke="#1B2D6B" stroke-width="1.3"/>
<line x1="745.7" y1="1396.8" x2="745.7" y2="1401.8" stroke="#1B2D6B" stroke-width="1.3"/>
<line x1="748.7" y1="1396.8" x2="748.7" y2="1401.8" stroke="#1B2D6B" stroke-width="1.3"/>
<line x1="751.3" y1="1396.8" x2="751.3" y2="1401.8" stroke="#1B2D6B" stroke-width="1.3"/>
<line x1="770.9" y1="1396.8" x2="770.9" y2="1401.8" stroke="#1B2D6B" stroke-width="1.3"/>
<line x1="779.8" y1="1396.8" x2="779.8" y2="1401.8" stroke="#1B2D6B" stroke-width="1.3"/>
<line x1="786.2" y1="1396.8" x2="786.2" y2="1401.8" stroke="#1B2D6B" stroke-width="1.3"/>
<line x1="791.1" y1="1396.8" x2="791.1" y2="1401.8" stroke="#1B2D6B" stroke-width="1.3"/>
<line x1="795.2" y1="1396.8" x2="795.2" y2="1401.8" stroke="#1B2D6B" stroke-width="1.3"/>
<line x1="798.6" y1="1396.8" x2="798.6" y2="1401.8" stroke="#1B2D6B" stroke-width="1.3"/>
<line x1="801.6" y1="1396.8" x2="801.6" y2="1401.8" stroke="#1B2D6B" stroke-width="1.3"/>
<line x1="804.2" y1="1396.8" x2="804.2" y2="1401.8" stroke="#1B2D6B" stroke-width="1.3"/>
<line x1="819.8" y1="1396.8" x2="819.8" y2="1401.8" stroke="#1B2D6B" stroke-width="1.3"/>
<line x1="828.7" y1="1396.8" x2="828.7" y2="1401.8" stroke="#1B2D6B" stroke-width="1.3"/>
<line x1="835.1" y1="1396.8" x2="835.1" y2="1401.8" stroke="#1B2D6B" stroke-width="1.3"/>
<line x1="840.0" y1="1396.8" x2="840.0" y2="1401.8" stroke="#1B2D6B" stroke-width="1.3"/>
<line x1="844.1" y1="1396.8" x2="844.1" y2="1401.8" stroke="#1B2D6B" stroke-width="1.3"/>
<line x1="847.5" y1="1396.8" x2="847.5" y2="1401.8" stroke="#1B2D6B" stroke-width="1.3"/>
<line x1="850.5" y1="1396.8" x2="850.5" y2="1401.8" stroke="#1B2D6B" stroke-width="1.3"/>
<line x1="853.1" y1="1396.8" x2="853.1" y2="1401.8" stroke="#1B2D6B" stroke-width="1.3"/>
<line x1="868.0" y1="1396.8" x2="868.0" y2="1401.8" stroke="#1B2D6B" stroke-width="1.3"/>
<line x1="876.9" y1="1396.8" x2="876.9" y2="1401.8" stroke="#1B2D6B" stroke-width="1.3"/>
<line x1="612.6" y1="1396.8" x2="612.6" y2="1401.8" stroke="#1B2D6B" stroke-width="1.3"/>
<line x1="615.0" y1="1396.8" x2="615.0" y2="1401.8" stroke="#1B2D6B" stroke-width="1.3"/>
<line x1="618.0" y1="1396.8" x2="618.0" y2="1401.8" stroke="#1B2D6B" stroke-width="1.3"/>
<line x1="621.0" y1="1396.8" x2="621.0" y2="1401.8" stroke="#1B2D6B" stroke-width="1.3"/>
<line x1="624.0" y1="1396.8" x2="624.0" y2="1401.8" stroke="#1B2D6B" stroke-width="1.3"/>
<line x1="627.0" y1="1396.8" x2="627.0" y2="1401.8" stroke="#1B2D6B" stroke-width="1.3"/>
<line x1="630.0" y1="1396.8" x2="630.0" y2="1401.8" stroke="#1B2D6B" stroke-width="1.3"/>
<line x1="633.0" y1="1396.8" x2="633.0" y2="1401.8" stroke="#1B2D6B" stroke-width="1.3"/>
<line x1="636.0" y1="1396.8" x2="636.0" y2="1401.8" stroke="#1B2D6B" stroke-width="1.3"/>
<line x1="640.0" y1="1396.8" x2="640.0" y2="1401.8" stroke="#1B2D6B" stroke-width="1.3"/>
<line x1="644.0" y1="1396.8" x2="644.0" y2="1401.8" stroke="#1B2D6B" stroke-width="1.3"/>
<path d="M630.0,1658.4 L630.0,1657.3 L632.0,1656.8 L634.1,1656.2 L636.1,1655.6 L638.1,1655.0 L640.1,1654.1 L642.2,1653.2 L644.2,1652.3 L646.6,1652.3 L648.9,1650.8 L651.3,1648.7 L653.7,1647.6 L655.8,1645.1 L657.9,1643.3 L660.0,1642.0 L662.4,1638.5 L664.7,1631.8 L667.1,1629.7 L669.5,1625.9 L671.8,1622.4 L674.2,1616.7 L675.8,1591.4 L678.9,1590.0 L682.1,1585.6 L685.2,1564.0 L688.4,1558.3 L691.6,1548.4 L693.1,1527.7 L695.5,1525.0 L696.3,1505.6 L699.5,1491.4 L702.6,1478.8 L704.2,1472.4 L707.3,1463.2 L710.5,1471.1 L713.7,1477.9 L716.8,1474.0 L720.0,1471.0 L720.8,1480.3 L724.7,1481.5 L726.3,1496.2 L727.9,1520.5 L730.2,1502.7 L731.8,1517.7 L734.2,1541.5 L735.8,1553.2 L738.9,1564.4 L742.1,1584.6 L743.7,1595.4 L746.8,1605.2 L750.0,1610.1 L753.1,1618.1 L756.3,1619.9 L759.4,1626.7 L761.8,1631.5 L764.2,1636.3 L766.5,1640.3 L768.9,1642.8 L771.3,1644.6 L773.7,1648.7 L776.3,1648.6 L778.9,1649.7 L781.5,1650.8 L784.2,1649.0 L786.8,1650.9 L789.4,1650.6 L791.5,1650.7 L793.6,1651.3 L795.8,1651.7 L798.4,1652.1 L801.0,1654.0 L803.6,1653.8 L805.8,1655.9 L807.9,1656.7 L810.0,1657.6 L810.0,1658.4 Z" fill="#9A9A9A" stroke="none" stroke-width="1.3"/>
<path d="M650.5,1658.4 L650.5,1657.6 L652.6,1656.9 L654.7,1656.2 L656.8,1655.5 L658.9,1654.8 L661.0,1654.4 L663.1,1653.2 L665.5,1652.0 L667.9,1651.3 L670.3,1649.6 L672.6,1646.2 L675.0,1645.0 L677.4,1641.8 L679.7,1637.7 L682.1,1635.7 L684.2,1631.7 L686.3,1627.6 L688.4,1625.1 L690.8,1615.7 L693.1,1604.0 L695.5,1593.5 L697.9,1581.2 L700.2,1568.0 L702.6,1557.9 L705.0,1545.5 L707.3,1534.4 L710.5,1516.6 L712.9,1504.0 L715.2,1490.4 L718.4,1475.7 L721.6,1460.2 L723.9,1456.9 L726.3,1452.7 L729.4,1451.9 L732.6,1462.3 L735.8,1467.7 L738.9,1489.7 L742.1,1502.4 L745.2,1524.8 L748.4,1543.6 L751.6,1565.0 L754.7,1589.1 L757.9,1604.5 L760.2,1612.1 L762.6,1620.6 L765.0,1626.9 L767.3,1634.3 L770.5,1633.5 L773.7,1626.3 L776.8,1635.2 L778.9,1638.5 L781.0,1639.7 L783.1,1640.4 L785.2,1641.0 L787.3,1641.9 L789.4,1642.6 L791.5,1641.7 L793.6,1641.1 L795.8,1641.6 L797.9,1644.1 L800.0,1643.6 L802.1,1645.4 L804.2,1646.9 L806.3,1649.0 L808.4,1651.0 L810.5,1652.6 L812.6,1653.1 L814.7,1653.8 L816.8,1655.9 L818.9,1656.7 L821.0,1657.6 L821.0,1658.4 Z" fill="#99CCFF" stroke="none" stroke-width="1.3"/>
<path d="M675.8,1658.4 L675.8,1657.6 L678.1,1654.5 L680.5,1652.3 L682.9,1650.9 L685.2,1647.6 L687.6,1644.3 L690.0,1642.2 L692.4,1638.9 L694.7,1636.5 L697.9,1623.9 L701.0,1604.2 L703.4,1593.1 L705.8,1581.2 L708.1,1570.8 L710.5,1556.4 L713.7,1540.3 L716.8,1517.6 L720.0,1493.1 L723.1,1470.5 L726.3,1458.8 L729.4,1447.2 L732.6,1442.3 L734.2,1436.1 L737.3,1428.7 L740.5,1433.1 L743.7,1446.5 L746.8,1455.5 L749.2,1468.2 L751.6,1480.7 L753.9,1496.5 L756.3,1523.1 L759.4,1541.6 L762.6,1564.6 L765.8,1579.8 L768.9,1597.0 L772.1,1613.5 L775.2,1625.2 L777.6,1628.5 L780.0,1633.3 L782.3,1637.4 L784.7,1641.5 L786.8,1642.8 L788.9,1644.4 L791.0,1647.4 L793.6,1649.6 L796.3,1649.5 L798.9,1652.9 L801.0,1653.1 L803.1,1655.2 L805.2,1655.7 L807.3,1656.4 L809.4,1657.0 L811.5,1657.6 L811.5,1658.4 Z" fill="#CC99FF" stroke="none" stroke-width="1.3"/>
<path d="M735.8,1467.7 L738.9,1489.7 L742.1,1502.4 L745.2,1524.8 L748.4,1543.6 L751.6,1565.0 L754.7,1589.1 L757.9,1604.5 L760.2,1612.1 L762.6,1620.6 L765.0,1626.9 L767.3,1634.3 L770.5,1633.5 L773.7,1626.3 L776.8,1635.2 L778.9,1638.5 L781.0,1639.7 L783.1,1640.4 L785.2,1641.0 L787.3,1641.9 L789.4,1642.6 L791.5,1641.7 L793.6,1641.1 L795.8,1641.6 L797.9,1644.1 L800.0,1643.6 L802.1,1645.4 L804.2,1646.9 L806.3,1649.0 L808.4,1651.0 L810.5,1652.6 L812.6,1653.1 L814.7,1653.8 L816.8,1655.9 L818.9,1656.7 L821.0,1657.6" fill="none" stroke="#8CC4F2" stroke-width="1.3"/>
<path d="M720.0,1471.0 L720.8,1480.3 L724.7,1481.5 L726.3,1496.2 L727.9,1520.5 L730.2,1502.7 L731.8,1517.7 L734.2,1541.5 L735.8,1553.2 L738.9,1564.4 L742.1,1584.6 L743.7,1595.4 L746.8,1605.2 L750.0,1610.1 L753.1,1618.1 L756.3,1619.9 L759.4,1626.7 L761.8,1631.5 L764.2,1636.3 L766.5,1640.3 L768.9,1642.8 L771.3,1644.6 L773.7,1648.7 L776.3,1648.6 L778.9,1649.7 L781.5,1650.8 L784.2,1649.0 L786.8,1650.9 L789.4,1650.6 L791.5,1650.7 L793.6,1651.3 L795.8,1651.7 L798.4,1652.1 L801.0,1654.0 L803.6,1653.8 L805.8,1655.9 L807.9,1656.7 L810.0,1657.6" fill="none" stroke="#7C7C80" stroke-width="1.3"/>
<path d="M608.7,1426.8 L879.7,1426.8 L879.7,1658.4" fill="none" stroke="#333" stroke-width="1.6"/>
<line x1="608.7" y1="1426.3" x2="608.7" y2="1659.4" stroke="#1B2D6B" stroke-width="3"/>
<line x1="602.7" y1="1658.4" x2="880.7" y2="1658.4" stroke="#1B2D6B" stroke-width="3"/>
<line x1="602.7" y1="1426.8" x2="608.7" y2="1426.8" stroke="#1B2D6B" stroke-width="1.6"/>
<line x1="605.2" y1="1441.3" x2="608.7" y2="1441.3" stroke="#1B2D6B" stroke-width="1.6"/>
<line x1="605.2" y1="1455.8" x2="608.7" y2="1455.8" stroke="#1B2D6B" stroke-width="1.6"/>
<line x1="605.2" y1="1470.2" x2="608.7" y2="1470.2" stroke="#1B2D6B" stroke-width="1.6"/>
<line x1="602.7" y1="1484.7" x2="608.7" y2="1484.7" stroke="#1B2D6B" stroke-width="1.6"/>
<line x1="605.2" y1="1499.2" x2="608.7" y2="1499.2" stroke="#1B2D6B" stroke-width="1.6"/>
<line x1="605.2" y1="1513.7" x2="608.7" y2="1513.7" stroke="#1B2D6B" stroke-width="1.6"/>
<line x1="605.2" y1="1528.1" x2="608.7" y2="1528.1" stroke="#1B2D6B" stroke-width="1.6"/>
<line x1="602.7" y1="1542.6" x2="608.7" y2="1542.6" stroke="#1B2D6B" stroke-width="1.6"/>
<line x1="605.2" y1="1557.1" x2="608.7" y2="1557.1" stroke="#1B2D6B" stroke-width="1.6"/>
<line x1="605.2" y1="1571.5" x2="608.7" y2="1571.5" stroke="#1B2D6B" stroke-width="1.6"/>
<line x1="605.2" y1="1586.0" x2="608.7" y2="1586.0" stroke="#1B2D6B" stroke-width="1.6"/>
<line x1="602.7" y1="1600.5" x2="608.7" y2="1600.5" stroke="#1B2D6B" stroke-width="1.6"/>
<line x1="605.2" y1="1615.0" x2="608.7" y2="1615.0" stroke="#1B2D6B" stroke-width="1.6"/>
<line x1="605.2" y1="1629.5" x2="608.7" y2="1629.5" stroke="#1B2D6B" stroke-width="1.6"/>
<line x1="605.2" y1="1643.9" x2="608.7" y2="1643.9" stroke="#1B2D6B" stroke-width="1.6"/>
<line x1="602.7" y1="1658.4" x2="608.7" y2="1658.4" stroke="#1B2D6B" stroke-width="1.6"/>
<text x="597.7" y="1432.3" font-size="15.5" text-anchor="end" fill="#35359A" style='font-family:"DejaVu Sans",Verdana,sans-serif'>6</text>
<text x="597.7" y="1490.2" font-size="15.5" text-anchor="end" fill="#35359A" style='font-family:"DejaVu Sans",Verdana,sans-serif'>4</text>
<text x="597.7" y="1548.1" font-size="15.5" text-anchor="end" fill="#35359A" style='font-family:"DejaVu Sans",Verdana,sans-serif'>3</text>
<text x="597.7" y="1606.0" font-size="15.5" text-anchor="end" fill="#35359A" style='font-family:"DejaVu Sans",Verdana,sans-serif'>1</text>
<text x="597.7" y="1663.9" font-size="15.5" text-anchor="end" fill="#35359A" style='font-family:"DejaVu Sans",Verdana,sans-serif'>0</text>
<line x1="678.9" y1="1658.4" x2="678.9" y2="1666.4" stroke="#1B2D6B" stroke-width="1.6"/>
<line x1="742.9" y1="1658.4" x2="742.9" y2="1666.4" stroke="#1B2D6B" stroke-width="1.6"/>
<line x1="802.9" y1="1658.4" x2="802.9" y2="1666.4" stroke="#1B2D6B" stroke-width="1.6"/>
<line x1="863.6" y1="1658.4" x2="863.6" y2="1666.4" stroke="#1B2D6B" stroke-width="1.6"/>
<line x1="697.3" y1="1658.4" x2="697.3" y2="1663.4" stroke="#1B2D6B" stroke-width="1.3"/>
<line x1="708.0" y1="1658.4" x2="708.0" y2="1663.4" stroke="#1B2D6B" stroke-width="1.3"/>
<line x1="715.6" y1="1658.4" x2="715.6" y2="1663.4" stroke="#1B2D6B" stroke-width="1.3"/>
<line x1="721.5" y1="1658.4" x2="721.5" y2="1663.4" stroke="#1B2D6B" stroke-width="1.3"/>
<line x1="726.4" y1="1658.4" x2="726.4" y2="1663.4" stroke="#1B2D6B" stroke-width="1.3"/>
<line x1="730.5" y1="1658.4" x2="730.5" y2="1663.4" stroke="#1B2D6B" stroke-width="1.3"/>
<line x1="734.0" y1="1658.4" x2="734.0" y2="1663.4" stroke="#1B2D6B" stroke-width="1.3"/>
<line x1="737.1" y1="1658.4" x2="737.1" y2="1663.4" stroke="#1B2D6B" stroke-width="1.3"/>
<line x1="761.3" y1="1658.4" x2="761.3" y2="1663.4" stroke="#1B2D6B" stroke-width="1.3"/>
<line x1="772.0" y1="1658.4" x2="772.0" y2="1663.4" stroke="#1B2D6B" stroke-width="1.3"/>
<line x1="779.6" y1="1658.4" x2="779.6" y2="1663.4" stroke="#1B2D6B" stroke-width="1.3"/>
<line x1="785.5" y1="1658.4" x2="785.5" y2="1663.4" stroke="#1B2D6B" stroke-width="1.3"/>
<line x1="790.4" y1="1658.4" x2="790.4" y2="1663.4" stroke="#1B2D6B" stroke-width="1.3"/>
<line x1="794.5" y1="1658.4" x2="794.5" y2="1663.4" stroke="#1B2D6B" stroke-width="1.3"/>
<line x1="798.0" y1="1658.4" x2="798.0" y2="1663.4" stroke="#1B2D6B" stroke-width="1.3"/>
<line x1="801.1" y1="1658.4" x2="801.1" y2="1663.4" stroke="#1B2D6B" stroke-width="1.3"/>
<line x1="821.3" y1="1658.4" x2="821.3" y2="1663.4" stroke="#1B2D6B" stroke-width="1.3"/>
<line x1="832.0" y1="1658.4" x2="832.0" y2="1663.4" stroke="#1B2D6B" stroke-width="1.3"/>
<line x1="839.6" y1="1658.4" x2="839.6" y2="1663.4" stroke="#1B2D6B" stroke-width="1.3"/>
<line x1="845.5" y1="1658.4" x2="845.5" y2="1663.4" stroke="#1B2D6B" stroke-width="1.3"/>
<line x1="850.4" y1="1658.4" x2="850.4" y2="1663.4" stroke="#1B2D6B" stroke-width="1.3"/>
<line x1="854.5" y1="1658.4" x2="854.5" y2="1663.4" stroke="#1B2D6B" stroke-width="1.3"/>
<line x1="858.0" y1="1658.4" x2="858.0" y2="1663.4" stroke="#1B2D6B" stroke-width="1.3"/>
<line x1="861.1" y1="1658.4" x2="861.1" y2="1663.4" stroke="#1B2D6B" stroke-width="1.3"/>
<line x1="615.0" y1="1658.4" x2="615.0" y2="1663.4" stroke="#1B2D6B" stroke-width="1.3"/>
<line x1="632.0" y1="1658.4" x2="632.0" y2="1663.4" stroke="#1B2D6B" stroke-width="1.3"/>
<line x1="644.0" y1="1658.4" x2="644.0" y2="1663.4" stroke="#1B2D6B" stroke-width="1.3"/>
<line x1="652.0" y1="1658.4" x2="652.0" y2="1663.4" stroke="#1B2D6B" stroke-width="1.3"/>
<line x1="658.0" y1="1658.4" x2="658.0" y2="1663.4" stroke="#1B2D6B" stroke-width="1.3"/>
<line x1="663.0" y1="1658.4" x2="663.0" y2="1663.4" stroke="#1B2D6B" stroke-width="1.3"/>
<line x1="667.0" y1="1658.4" x2="667.0" y2="1663.4" stroke="#1B2D6B" stroke-width="1.3"/>
<line x1="671.0" y1="1658.4" x2="671.0" y2="1663.4" stroke="#1B2D6B" stroke-width="1.3"/>
<line x1="674.0" y1="1658.4" x2="674.0" y2="1663.4" stroke="#1B2D6B" stroke-width="1.3"/>
<path d="M1150.3,1390.0 L1150.3,1388.9 L1152.6,1387.9 L1155.0,1386.0 L1157.1,1382.3 L1159.2,1381.3 L1161.3,1380.5 L1163.7,1377.3 L1166.0,1371.3 L1169.2,1362.4 L1172.4,1351.1 L1175.5,1338.2 L1178.7,1318.4 L1181.0,1294.6 L1183.4,1271.7 L1185.8,1256.5 L1188.1,1231.0 L1190.5,1211.9 L1192.9,1199.2 L1195.2,1177.4 L1197.6,1164.1 L1200.5,1156.8 L1203.1,1163.6 L1205.5,1176.4 L1207.1,1194.9 L1210.2,1208.8 L1212.6,1231.8 L1215.0,1255.0 L1217.3,1270.5 L1219.7,1295.5 L1221.3,1318.9 L1223.7,1342.8 L1226.0,1362.6 L1227.6,1369.1 L1229.2,1371.5 L1230.8,1379.1 L1233.9,1383.8 L1236.3,1386.8 L1238.7,1388.9 L1238.7,1390.0 Z" fill="#808080" stroke="none" stroke-width="1.3"/>
<path d="M1197.6,1390.0 L1197.6,1388.9 L1200.2,1388.1 L1202.9,1387.3 L1205.5,1387.2 L1207.9,1385.8 L1210.2,1383.2 L1212.6,1382.4 L1215.0,1382.6 L1217.1,1380.0 L1219.2,1378.5 L1221.3,1376.4 L1223.7,1370.6 L1226.0,1367.0 L1229.2,1355.5 L1232.3,1345.1 L1235.5,1334.1 L1237.9,1317.6 L1240.2,1302.6 L1242.6,1288.2 L1244.2,1270.3 L1245.8,1255.7 L1247.3,1238.8 L1248.9,1222.9 L1251.3,1208.5 L1252.9,1191.7 L1256.0,1183.4 L1258.4,1167.8 L1260.0,1158.0 L1262.3,1154.7 L1264.7,1164.4 L1267.1,1179.1 L1269.4,1193.5 L1271.0,1207.5 L1272.6,1232.0 L1274.2,1255.3 L1275.8,1279.9 L1278.1,1303.1 L1280.5,1327.2 L1282.9,1342.4 L1286.0,1357.4 L1289.2,1370.0 L1291.5,1374.5 L1293.9,1381.0 L1296.0,1382.2 L1298.1,1384.9 L1300.2,1388.9 L1300.2,1390.0 Z" fill="#99CC00" stroke="none" stroke-width="1.3"/>
<path d="M1198.4,1390.0 L1198.4,1388.9 L1201.0,1388.1 L1203.7,1387.3 L1206.3,1387.7 L1208.7,1384.6 L1211.0,1385.1 L1213.4,1382.0 L1215.8,1381.7 L1217.9,1379.0 L1220.0,1378.4 L1222.1,1375.8 L1224.4,1371.1 L1226.8,1366.6 L1230.0,1355.9 L1233.1,1345.1 L1236.3,1334.7 L1238.7,1318.5 L1241.0,1301.9 L1243.4,1287.9 L1245.0,1271.5 L1246.6,1256.3 L1248.1,1239.0 L1249.7,1224.0 L1252.1,1208.1 L1253.7,1192.9 L1256.8,1183.5 L1259.2,1168.3 L1260.8,1157.6 L1262.3,1152.7 L1263.9,1165.6 L1266.3,1180.3 L1268.7,1192.2 L1270.2,1208.5 L1271.8,1232.1 L1273.4,1254.8 L1275.0,1278.8 L1277.3,1304.1 L1279.7,1326.1 L1282.1,1342.2 L1285.2,1357.1 L1288.4,1370.1 L1290.8,1374.7 L1293.1,1381.3 L1295.2,1383.7 L1297.3,1386.9 L1299.4,1388.9 L1299.4,1390.0 Z" fill="#FFCC00" stroke="none" stroke-width="1.3"/>
<path d="M1183.4,1271.7 L1185.8,1256.5 L1188.1,1231.0 L1190.5,1211.9 L1192.9,1199.2 L1195.2,1177.4 L1197.6,1164.1 L1200.5,1156.8 L1203.1,1163.6 L1205.5,1176.4 L1207.1,1194.9 L1210.2,1208.8 L1212.6,1231.8 L1215.0,1255.0 L1217.3,1270.5 L1219.7,1295.5 L1221.3,1318.9 L1223.7,1342.8 L1226.0,1362.6 L1227.6,1369.1 L1229.2,1371.5 L1230.8,1379.1 L1233.9,1383.8 L1236.3,1386.8 L1238.7,1388.9" fill="none" stroke="#7C7C80" stroke-width="1.3"/>
<path d="M1107.6,1154.8 L1377.6,1154.8 L1377.6,1390.0" fill="none" stroke="#333" stroke-width="1.6"/>
<line x1="1107.6" y1="1154.3" x2="1107.6" y2="1391.0" stroke="#1B2D6B" stroke-width="3"/>
<line x1="1101.6" y1="1390.0" x2="1378.6" y2="1390.0" stroke="#1B2D6B" stroke-width="3"/>
<line x1="1101.6" y1="1154.8" x2="1107.6" y2="1154.8" stroke="#1B2D6B" stroke-width="1.6"/>
<line x1="1104.1" y1="1169.5" x2="1107.6" y2="1169.5" stroke="#1B2D6B" stroke-width="1.6"/>
<line x1="1104.1" y1="1184.2" x2="1107.6" y2="1184.2" stroke="#1B2D6B" stroke-width="1.6"/>
<line x1="1104.1" y1="1198.9" x2="1107.6" y2="1198.9" stroke="#1B2D6B" stroke-width="1.6"/>
<line x1="1101.6" y1="1213.6" x2="1107.6" y2="1213.6" stroke="#1B2D6B" stroke-width="1.6"/>
<line x1="1104.1" y1="1228.3" x2="1107.6" y2="1228.3" stroke="#1B2D6B" stroke-width="1.6"/>
<line x1="1104.1" y1="1243.0" x2="1107.6" y2="1243.0" stroke="#1B2D6B" stroke-width="1.6"/>
<line x1="1104.1" y1="1257.7" x2="1107.6" y2="1257.7" stroke="#1B2D6B" stroke-width="1.6"/>
<line x1="1101.6" y1="1272.4" x2="1107.6" y2="1272.4" stroke="#1B2D6B" stroke-width="1.6"/>
<line x1="1104.1" y1="1287.1" x2="1107.6" y2="1287.1" stroke="#1B2D6B" stroke-width="1.6"/>
<line x1="1104.1" y1="1301.8" x2="1107.6" y2="1301.8" stroke="#1B2D6B" stroke-width="1.6"/>
<line x1="1104.1" y1="1316.5" x2="1107.6" y2="1316.5" stroke="#1B2D6B" stroke-width="1.6"/>
<line x1="1101.6" y1="1331.2" x2="1107.6" y2="1331.2" stroke="#1B2D6B" stroke-width="1.6"/>
<line x1="1104.1" y1="1345.9" x2="1107.6" y2="1345.9" stroke="#1B2D6B" stroke-width="1.6"/>
<line x1="1104.1" y1="1360.6" x2="1107.6" y2="1360.6" stroke="#1B2D6B" stroke-width="1.6"/>
<line x1="1104.1" y1="1375.3" x2="1107.6" y2="1375.3" stroke="#1B2D6B" stroke-width="1.6"/>
<line x1="1101.6" y1="1390.0" x2="1107.6" y2="1390.0" stroke="#1B2D6B" stroke-width="1.6"/>
<text x="1096.6" y="1160.3" font-size="15.5" text-anchor="end" fill="#35359A" style='font-family:"DejaVu Sans",Verdana,sans-serif'>8</text>
<text x="1096.6" y="1219.1" font-size="15.5" text-anchor="end" fill="#35359A" style='font-family:"DejaVu Sans",Verdana,sans-serif'>6</text>
<text x="1096.6" y="1277.9" font-size="15.5" text-anchor="end" fill="#35359A" style='font-family:"DejaVu Sans",Verdana,sans-serif'>4</text>
<text x="1096.6" y="1336.7" font-size="15.5" text-anchor="end" fill="#35359A" style='font-family:"DejaVu Sans",Verdana,sans-serif'>2</text>
<text x="1096.6" y="1395.5" font-size="15.5" text-anchor="end" fill="#35359A" style='font-family:"DejaVu Sans",Verdana,sans-serif'>0</text>
<line x1="1163.7" y1="1390.0" x2="1163.7" y2="1398.0" stroke="#1B2D6B" stroke-width="1.6"/>
<line x1="1229.2" y1="1390.0" x2="1229.2" y2="1398.0" stroke="#1B2D6B" stroke-width="1.6"/>
<line x1="1290.8" y1="1390.0" x2="1290.8" y2="1398.0" stroke="#1B2D6B" stroke-width="1.6"/>
<line x1="1351.5" y1="1390.0" x2="1351.5" y2="1398.0" stroke="#1B2D6B" stroke-width="1.6"/>
<line x1="1182.7" y1="1390.0" x2="1182.7" y2="1395.0" stroke="#1B2D6B" stroke-width="1.3"/>
<line x1="1193.8" y1="1390.0" x2="1193.8" y2="1395.0" stroke="#1B2D6B" stroke-width="1.3"/>
<line x1="1201.6" y1="1390.0" x2="1201.6" y2="1395.0" stroke="#1B2D6B" stroke-width="1.3"/>
<line x1="1207.7" y1="1390.0" x2="1207.7" y2="1395.0" stroke="#1B2D6B" stroke-width="1.3"/>
<line x1="1212.7" y1="1390.0" x2="1212.7" y2="1395.0" stroke="#1B2D6B" stroke-width="1.3"/>
<line x1="1216.9" y1="1390.0" x2="1216.9" y2="1395.0" stroke="#1B2D6B" stroke-width="1.3"/>
<line x1="1220.6" y1="1390.0" x2="1220.6" y2="1395.0" stroke="#1B2D6B" stroke-width="1.3"/>
<line x1="1223.8" y1="1390.0" x2="1223.8" y2="1395.0" stroke="#1B2D6B" stroke-width="1.3"/>
<line x1="1248.2" y1="1390.0" x2="1248.2" y2="1395.0" stroke="#1B2D6B" stroke-width="1.3"/>
<line x1="1259.3" y1="1390.0" x2="1259.3" y2="1395.0" stroke="#1B2D6B" stroke-width="1.3"/>
<line x1="1267.1" y1="1390.0" x2="1267.1" y2="1395.0" stroke="#1B2D6B" stroke-width="1.3"/>
<line x1="1273.2" y1="1390.0" x2="1273.2" y2="1395.0" stroke="#1B2D6B" stroke-width="1.3"/>
<line x1="1278.2" y1="1390.0" x2="1278.2" y2="1395.0" stroke="#1B2D6B" stroke-width="1.3"/>
<line x1="1282.4" y1="1390.0" x2="1282.4" y2="1395.0" stroke="#1B2D6B" stroke-width="1.3"/>
<line x1="1286.1" y1="1390.0" x2="1286.1" y2="1395.0" stroke="#1B2D6B" stroke-width="1.3"/>
<line x1="1289.3" y1="1390.0" x2="1289.3" y2="1395.0" stroke="#1B2D6B" stroke-width="1.3"/>
<line x1="1309.8" y1="1390.0" x2="1309.8" y2="1395.0" stroke="#1B2D6B" stroke-width="1.3"/>
<line x1="1320.9" y1="1390.0" x2="1320.9" y2="1395.0" stroke="#1B2D6B" stroke-width="1.3"/>
<line x1="1328.7" y1="1390.0" x2="1328.7" y2="1395.0" stroke="#1B2D6B" stroke-width="1.3"/>
<line x1="1334.8" y1="1390.0" x2="1334.8" y2="1395.0" stroke="#1B2D6B" stroke-width="1.3"/>
<line x1="1339.8" y1="1390.0" x2="1339.8" y2="1395.0" stroke="#1B2D6B" stroke-width="1.3"/>
<line x1="1344.0" y1="1390.0" x2="1344.0" y2="1395.0" stroke="#1B2D6B" stroke-width="1.3"/>
<line x1="1347.7" y1="1390.0" x2="1347.7" y2="1395.0" stroke="#1B2D6B" stroke-width="1.3"/>
<line x1="1350.9" y1="1390.0" x2="1350.9" y2="1395.0" stroke="#1B2D6B" stroke-width="1.3"/>
<line x1="1370.5" y1="1390.0" x2="1370.5" y2="1395.0" stroke="#1B2D6B" stroke-width="1.3"/>
<line x1="1110.0" y1="1390.0" x2="1110.0" y2="1395.0" stroke="#1B2D6B" stroke-width="1.3"/>
<line x1="1120.0" y1="1390.0" x2="1120.0" y2="1395.0" stroke="#1B2D6B" stroke-width="1.3"/>
<line x1="1126.0" y1="1390.0" x2="1126.0" y2="1395.0" stroke="#1B2D6B" stroke-width="1.3"/>
<line x1="1132.0" y1="1390.0" x2="1132.0" y2="1395.0" stroke="#1B2D6B" stroke-width="1.3"/>
<line x1="1137.0" y1="1390.0" x2="1137.0" y2="1395.0" stroke="#1B2D6B" stroke-width="1.3"/>
<line x1="1142.0" y1="1390.0" x2="1142.0" y2="1395.0" stroke="#1B2D6B" stroke-width="1.3"/>
<line x1="1146.0" y1="1390.0" x2="1146.0" y2="1395.0" stroke="#1B2D6B" stroke-width="1.3"/>
<line x1="1150.0" y1="1390.0" x2="1150.0" y2="1395.0" stroke="#1B2D6B" stroke-width="1.3"/>
<line x1="1154.0" y1="1390.0" x2="1154.0" y2="1395.0" stroke="#1B2D6B" stroke-width="1.3"/>
<line x1="1158.0" y1="1390.0" x2="1158.0" y2="1395.0" stroke="#1B2D6B" stroke-width="1.3"/>
<path d="M1131.0,1656.0 L1131.0,1655.2 L1133.3,1654.4 L1135.5,1653.6 L1137.7,1654.0 L1139.9,1652.3 L1142.1,1652.3 L1144.7,1650.8 L1147.4,1650.0 L1150.0,1650.8 L1152.1,1648.6 L1154.2,1646.6 L1156.3,1643.3 L1158.4,1641.9 L1160.5,1638.9 L1162.6,1638.3 L1164.7,1636.0 L1166.8,1632.4 L1168.9,1631.8 L1171.3,1624.5 L1173.7,1618.7 L1176.0,1616.3 L1178.4,1611.3 L1181.6,1602.4 L1184.7,1594.8 L1187.9,1577.5 L1191.0,1566.6 L1194.2,1552.9 L1197.3,1543.8 L1200.5,1530.9 L1203.7,1516.1 L1206.8,1503.5 L1210.0,1496.1 L1212.3,1484.6 L1216.3,1483.5 L1218.7,1486.9 L1221.0,1498.7 L1223.4,1506.8 L1227.3,1522.5 L1229.7,1539.7 L1232.1,1556.1 L1235.2,1571.9 L1238.4,1587.4 L1241.6,1606.8 L1243.9,1625.2 L1247.9,1636.6 L1250.2,1642.5 L1252.6,1648.2 L1255.0,1652.2 L1257.3,1656.0 L1257.3,1656.0 Z" fill="#808080" stroke="none" stroke-width="1.3"/>
<path d="M1153.1,1656.0 L1153.1,1656.0 L1155.4,1655.6 L1157.7,1655.1 L1159.9,1654.7 L1162.2,1654.2 L1164.4,1653.8 L1166.7,1653.3 L1168.9,1652.5 L1171.3,1652.1 L1173.7,1649.2 L1176.0,1648.0 L1178.4,1647.5 L1180.5,1645.7 L1182.6,1642.9 L1184.7,1641.2 L1186.8,1639.9 L1188.9,1635.4 L1191.0,1633.0 L1193.1,1630.3 L1195.2,1626.6 L1197.3,1622.1 L1199.7,1613.9 L1202.1,1606.4 L1204.5,1597.5 L1206.8,1586.5 L1209.2,1575.9 L1211.6,1563.6 L1214.7,1540.3 L1217.9,1514.4 L1220.2,1491.1 L1221.0,1467.0 L1222.6,1452.2 L1224.2,1448.8 L1225.8,1454.4 L1227.3,1446.2 L1229.7,1435.6 L1231.3,1419.5 L1232.9,1424.9 L1234.4,1437.3 L1237.6,1444.3 L1239.2,1467.6 L1240.8,1490.7 L1242.3,1507.4 L1243.9,1531.6 L1246.3,1555.4 L1247.9,1579.6 L1251.0,1611.0 L1254.2,1628.6 L1257.3,1640.9 L1260.5,1650.3 L1263.7,1652.8 L1266.0,1654.0 L1268.4,1656.0 L1268.4,1656.0 Z" fill="#FFCC00" stroke="none" stroke-width="1.3"/>
<path d="M1132.6,1656.0 L1132.6,1656.0 L1134.7,1655.5 L1136.8,1655.0 L1138.9,1654.4 L1141.0,1653.9 L1143.1,1653.4 L1145.3,1652.9 L1147.5,1652.4 L1149.7,1650.4 L1151.9,1648.5 L1154.1,1647.0 L1156.3,1645.4 L1158.7,1644.5 L1161.0,1642.8 L1163.4,1640.4 L1165.8,1637.0 L1167.9,1633.8 L1170.0,1630.7 L1172.1,1626.8 L1174.2,1622.0 L1176.3,1617.4 L1178.4,1613.4 L1180.5,1607.9 L1182.6,1603.1 L1184.7,1599.6 L1186.8,1593.5 L1188.9,1585.6 L1191.0,1578.4 L1193.1,1570.4 L1195.2,1562.8 L1197.3,1555.7 L1199.7,1544.6 L1202.1,1535.6 L1204.5,1522.6 L1206.8,1511.9 L1209.2,1502.9 L1211.6,1493.2 L1213.9,1488.7 L1216.3,1483.1 L1220.2,1477.1 L1224.2,1481.0 L1227.3,1492.3 L1230.5,1512.5 L1233.7,1531.4 L1236.8,1554.9 L1240.0,1586.0 L1243.1,1610.7 L1246.3,1630.2 L1249.4,1640.8 L1251.8,1646.9 L1254.2,1651.0 L1256.5,1653.6 L1258.9,1656.0 L1258.9,1656.0 Z" fill="#99CC00" stroke="none" stroke-width="1.3"/>
<path d="M1131.0,1655.2 L1133.3,1654.4 L1135.5,1653.6 L1137.7,1654.0 L1139.9,1652.3 L1142.1,1652.3 L1144.7,1650.8 L1147.4,1650.0 L1150.0,1650.8 L1152.1,1648.6 L1154.2,1646.6 L1156.3,1643.3 L1158.4,1641.9 L1160.5,1638.9 L1162.6,1638.3 L1164.7,1636.0 L1166.8,1632.4 L1168.9,1631.8 L1171.3,1624.5 L1173.7,1618.7 L1176.0,1616.3 L1178.4,1611.3 L1181.6,1602.4 L1184.7,1594.8 L1187.9,1577.5 L1191.0,1566.6 L1194.2,1552.9 L1197.3,1543.8 L1200.5,1530.9 L1203.7,1516.1 L1206.8,1503.5 L1210.0,1496.1 L1212.3,1484.6 L1216.3,1483.5 L1218.7,1486.9 L1221.0,1498.7 L1223.4,1506.8 L1227.3,1522.5 L1229.7,1539.7 L1232.1,1556.1 L1235.2,1571.9 L1238.4,1587.4 L1241.6,1606.8 L1243.9,1625.2 L1247.9,1636.6 L1250.2,1642.5 L1252.6,1648.2 L1255.0,1652.2 L1257.3,1656.0" fill="none" stroke="#7C7C80" stroke-width="1.5"/>
<path d="M1153.1,1656.0 L1155.4,1655.6 L1157.7,1655.1 L1159.9,1654.7 L1162.2,1654.2 L1164.4,1653.8 L1166.7,1653.3 L1168.9,1652.5 L1171.3,1652.1 L1173.7,1649.2 L1176.0,1648.0 L1178.4,1647.5 L1180.5,1645.7 L1182.6,1642.9 L1184.7,1641.2 L1186.8,1639.9 L1188.9,1635.4 L1191.0,1633.0 L1193.1,1630.3 L1195.2,1626.6 L1197.3,1622.1 L1199.7,1613.9 L1202.1,1606.4 L1204.5,1597.5 L1206.8,1586.5 L1209.2,1575.9 L1211.6,1563.6 L1214.7,1540.3 L1217.9,1514.4 L1220.2,1491.1 L1221.0,1467.0 L1222.6,1452.2 L1224.2,1448.8 L1225.8,1454.4 L1227.3,1446.2" fill="none" stroke="#FFD21A" stroke-width="1.4"/>
<path d="M1103.4,1418.9 L1371.8,1418.9 L1371.8,1656.0" fill="none" stroke="#333" stroke-width="1.6"/>
<line x1="1103.4" y1="1418.4" x2="1103.4" y2="1657.0" stroke="#1B2D6B" stroke-width="3"/>
<line x1="1097.4" y1="1656.0" x2="1372.8" y2="1656.0" stroke="#1B2D6B" stroke-width="3"/>
<line x1="1097.4" y1="1418.9" x2="1103.4" y2="1418.9" stroke="#1B2D6B" stroke-width="1.6"/>
<line x1="1099.9" y1="1433.7" x2="1103.4" y2="1433.7" stroke="#1B2D6B" stroke-width="1.6"/>
<line x1="1099.9" y1="1448.5" x2="1103.4" y2="1448.5" stroke="#1B2D6B" stroke-width="1.6"/>
<line x1="1099.9" y1="1463.4" x2="1103.4" y2="1463.4" stroke="#1B2D6B" stroke-width="1.6"/>
<line x1="1097.4" y1="1478.2" x2="1103.4" y2="1478.2" stroke="#1B2D6B" stroke-width="1.6"/>
<line x1="1099.9" y1="1493.0" x2="1103.4" y2="1493.0" stroke="#1B2D6B" stroke-width="1.6"/>
<line x1="1099.9" y1="1507.8" x2="1103.4" y2="1507.8" stroke="#1B2D6B" stroke-width="1.6"/>
<line x1="1099.9" y1="1522.6" x2="1103.4" y2="1522.6" stroke="#1B2D6B" stroke-width="1.6"/>
<line x1="1097.4" y1="1537.5" x2="1103.4" y2="1537.5" stroke="#1B2D6B" stroke-width="1.6"/>
<line x1="1099.9" y1="1552.3" x2="1103.4" y2="1552.3" stroke="#1B2D6B" stroke-width="1.6"/>
<line x1="1099.9" y1="1567.1" x2="1103.4" y2="1567.1" stroke="#1B2D6B" stroke-width="1.6"/>
<line x1="1099.9" y1="1581.9" x2="1103.4" y2="1581.9" stroke="#1B2D6B" stroke-width="1.6"/>
<line x1="1097.4" y1="1596.7" x2="1103.4" y2="1596.7" stroke="#1B2D6B" stroke-width="1.6"/>
<line x1="1099.9" y1="1611.5" x2="1103.4" y2="1611.5" stroke="#1B2D6B" stroke-width="1.6"/>
<line x1="1099.9" y1="1626.4" x2="1103.4" y2="1626.4" stroke="#1B2D6B" stroke-width="1.6"/>
<line x1="1099.9" y1="1641.2" x2="1103.4" y2="1641.2" stroke="#1B2D6B" stroke-width="1.6"/>
<line x1="1097.4" y1="1656.0" x2="1103.4" y2="1656.0" stroke="#1B2D6B" stroke-width="1.6"/>
<text x="1092.4" y="1424.4" font-size="15.5" text-anchor="end" fill="#35359A" style='font-family:"DejaVu Sans",Verdana,sans-serif'>9</text>
<text x="1092.4" y="1483.7" font-size="15.5" text-anchor="end" fill="#35359A" style='font-family:"DejaVu Sans",Verdana,sans-serif'>7</text>
<text x="1092.4" y="1543.0" font-size="15.5" text-anchor="end" fill="#35359A" style='font-family:"DejaVu Sans",Verdana,sans-serif'>4</text>
<text x="1092.4" y="1602.2" font-size="15.5" text-anchor="end" fill="#35359A" style='font-family:"DejaVu Sans",Verdana,sans-serif'>2</text>
<text x="1092.4" y="1661.5" font-size="15.5" text-anchor="end" fill="#35359A" style='font-family:"DejaVu Sans",Verdana,sans-serif'>0</text>
<line x1="1118.4" y1="1656.0" x2="1118.4" y2="1664.0" stroke="#1B2D6B" stroke-width="1.6"/>
<line x1="1191.8" y1="1656.0" x2="1191.8" y2="1664.0" stroke="#1B2D6B" stroke-width="1.6"/>
<line x1="1261.3" y1="1656.0" x2="1261.3" y2="1664.0" stroke="#1B2D6B" stroke-width="1.6"/>
<line x1="1330.7" y1="1656.0" x2="1330.7" y2="1664.0" stroke="#1B2D6B" stroke-width="1.6"/>
<line x1="1139.2" y1="1656.0" x2="1139.2" y2="1661.0" stroke="#1B2D6B" stroke-width="1.3"/>
<line x1="1151.3" y1="1656.0" x2="1151.3" y2="1661.0" stroke="#1B2D6B" stroke-width="1.3"/>
<line x1="1159.9" y1="1656.0" x2="1159.9" y2="1661.0" stroke="#1B2D6B" stroke-width="1.3"/>
<line x1="1166.6" y1="1656.0" x2="1166.6" y2="1661.0" stroke="#1B2D6B" stroke-width="1.3"/>
<line x1="1172.1" y1="1656.0" x2="1172.1" y2="1661.0" stroke="#1B2D6B" stroke-width="1.3"/>
<line x1="1176.7" y1="1656.0" x2="1176.7" y2="1661.0" stroke="#1B2D6B" stroke-width="1.3"/>
<line x1="1180.7" y1="1656.0" x2="1180.7" y2="1661.0" stroke="#1B2D6B" stroke-width="1.3"/>
<line x1="1184.2" y1="1656.0" x2="1184.2" y2="1661.0" stroke="#1B2D6B" stroke-width="1.3"/>
<line x1="1212.6" y1="1656.0" x2="1212.6" y2="1661.0" stroke="#1B2D6B" stroke-width="1.3"/>
<line x1="1224.7" y1="1656.0" x2="1224.7" y2="1661.0" stroke="#1B2D6B" stroke-width="1.3"/>
<line x1="1233.3" y1="1656.0" x2="1233.3" y2="1661.0" stroke="#1B2D6B" stroke-width="1.3"/>
<line x1="1240.0" y1="1656.0" x2="1240.0" y2="1661.0" stroke="#1B2D6B" stroke-width="1.3"/>
<line x1="1245.5" y1="1656.0" x2="1245.5" y2="1661.0" stroke="#1B2D6B" stroke-width="1.3"/>
<line x1="1250.1" y1="1656.0" x2="1250.1" y2="1661.0" stroke="#1B2D6B" stroke-width="1.3"/>
<line x1="1254.1" y1="1656.0" x2="1254.1" y2="1661.0" stroke="#1B2D6B" stroke-width="1.3"/>
<line x1="1257.6" y1="1656.0" x2="1257.6" y2="1661.0" stroke="#1B2D6B" stroke-width="1.3"/>
<line x1="1282.1" y1="1656.0" x2="1282.1" y2="1661.0" stroke="#1B2D6B" stroke-width="1.3"/>
<line x1="1294.2" y1="1656.0" x2="1294.2" y2="1661.0" stroke="#1B2D6B" stroke-width="1.3"/>
<line x1="1302.8" y1="1656.0" x2="1302.8" y2="1661.0" stroke="#1B2D6B" stroke-width="1.3"/>
<line x1="1309.5" y1="1656.0" x2="1309.5" y2="1661.0" stroke="#1B2D6B" stroke-width="1.3"/>
<line x1="1315.0" y1="1656.0" x2="1315.0" y2="1661.0" stroke="#1B2D6B" stroke-width="1.3"/>
<line x1="1319.6" y1="1656.0" x2="1319.6" y2="1661.0" stroke="#1B2D6B" stroke-width="1.3"/>
<line x1="1323.6" y1="1656.0" x2="1323.6" y2="1661.0" stroke="#1B2D6B" stroke-width="1.3"/>
<line x1="1327.1" y1="1656.0" x2="1327.1" y2="1661.0" stroke="#1B2D6B" stroke-width="1.3"/>
<line x1="1351.5" y1="1656.0" x2="1351.5" y2="1661.0" stroke="#1B2D6B" stroke-width="1.3"/>
<line x1="1363.6" y1="1656.0" x2="1363.6" y2="1661.0" stroke="#1B2D6B" stroke-width="1.3"/>
<line x1="1104.2" y1="1656.0" x2="1104.2" y2="1661.0" stroke="#1B2D6B" stroke-width="1.3"/>
<line x1="1107.0" y1="1656.0" x2="1107.0" y2="1661.0" stroke="#1B2D6B" stroke-width="1.3"/>
<line x1="1110.0" y1="1656.0" x2="1110.0" y2="1661.0" stroke="#1B2D6B" stroke-width="1.3"/>
<line x1="1113.0" y1="1656.0" x2="1113.0" y2="1661.0" stroke="#1B2D6B" stroke-width="1.3"/>
<text transform="translate(96.3 1271.3) rotate(-90)" font-size="17.5" text-anchor="middle" fill="#35359A" textLength="58.5" lengthAdjust="spacingAndGlyphs" style='font-family:"DejaVu Sans",Verdana,sans-serif'>Count</text>
<text transform="translate(95.6 1542.1) rotate(-90)" font-size="17.5" text-anchor="middle" fill="#35359A" textLength="55" lengthAdjust="spacingAndGlyphs" style='font-family:"DejaVu Sans",Verdana,sans-serif'>Count</text>
<text transform="translate(572.8 1273.6) rotate(-90)" font-size="17.5" text-anchor="middle" fill="#35359A" textLength="61.5" lengthAdjust="spacingAndGlyphs" style='font-family:"DejaVu Sans",Verdana,sans-serif'>Count</text>
<text transform="translate(575.5 1540.5) rotate(-90)" font-size="17.5" text-anchor="middle" fill="#35359A" textLength="58.5" lengthAdjust="spacingAndGlyphs" style='font-family:"DejaVu Sans",Verdana,sans-serif'>Count</text>
<text transform="translate(1066.0 1269.9) rotate(-90)" font-size="17.5" text-anchor="middle" fill="#35359A" textLength="60" lengthAdjust="spacingAndGlyphs" style='font-family:"DejaVu Sans",Verdana,sans-serif'>Count</text>
<text transform="translate(1065.7 1535.8) rotate(-90)" font-size="17.5" text-anchor="middle" fill="#35359A" textLength="59" lengthAdjust="spacingAndGlyphs" style='font-family:"DejaVu Sans",Verdana,sans-serif'>Count</text>
<line x1="160.6" y1="1394.5" x2="160.6" y2="1403.0" stroke="#1B2D6B" stroke-width="1.4"/>
<line x1="162.2" y1="1394.5" x2="162.2" y2="1403.0" stroke="#1B2D6B" stroke-width="1.4"/>
<line x1="163.8" y1="1394.5" x2="163.8" y2="1403.0" stroke="#1B2D6B" stroke-width="1.4"/>
<line x1="165.4" y1="1394.5" x2="165.4" y2="1403.0" stroke="#1B2D6B" stroke-width="1.4"/>
<line x1="159.6" y1="1656.8" x2="159.6" y2="1665.3" stroke="#1B2D6B" stroke-width="1.4"/>
<line x1="161.2" y1="1656.8" x2="161.2" y2="1665.3" stroke="#1B2D6B" stroke-width="1.4"/>
<line x1="162.8" y1="1656.8" x2="162.8" y2="1665.3" stroke="#1B2D6B" stroke-width="1.4"/>
<line x1="164.4" y1="1656.8" x2="164.4" y2="1665.3" stroke="#1B2D6B" stroke-width="1.4"/>
<line x1="629.1" y1="1396.8" x2="629.1" y2="1405.3" stroke="#1B2D6B" stroke-width="1.4"/>
<line x1="630.7" y1="1396.8" x2="630.7" y2="1405.3" stroke="#1B2D6B" stroke-width="1.4"/>
<line x1="632.3" y1="1396.8" x2="632.3" y2="1405.3" stroke="#1B2D6B" stroke-width="1.4"/>
<line x1="633.9" y1="1396.8" x2="633.9" y2="1405.3" stroke="#1B2D6B" stroke-width="1.4"/>
<line x1="1124.2" y1="1390.0" x2="1124.2" y2="1398.5" stroke="#1B2D6B" stroke-width="1.4"/>
<line x1="1125.8" y1="1390.0" x2="1125.8" y2="1398.5" stroke="#1B2D6B" stroke-width="1.4"/>
<line x1="1127.4" y1="1390.0" x2="1127.4" y2="1398.5" stroke="#1B2D6B" stroke-width="1.4"/>
<line x1="1129.0" y1="1390.0" x2="1129.0" y2="1398.5" stroke="#1B2D6B" stroke-width="1.4"/>
<rect x="424.5" y="1171.4" width="21.3" height="21.0" rx="2" fill="#A0A0A0" stroke="#111" stroke-width="2.2"/>
<text transform="translate(452.6 1190.6) scale(0.9 1)" font-size="26" style='font-family:"Liberation Sans",Arial,sans-serif;font-weight:normal;stroke:#000;stroke-width:0.35'>shScr</text>
<rect x="424.5" y="1206.1" width="21.3" height="21.0" rx="2" fill="#A0D0FF" stroke="#111" stroke-width="2.2"/>
<text transform="translate(452.6 1225.3) scale(0.9 1)" font-size="26" style='font-family:"Liberation Sans",Arial,sans-serif;font-weight:normal;stroke:#000;stroke-width:0.35'>sh539</text>
<rect x="424.5" y="1240.9" width="21.3" height="21.0" rx="2" fill="#FFCC00" stroke="#111" stroke-width="2.2"/>
<text transform="translate(452.6 1260.1) scale(0.9 1)" font-size="26" style='font-family:"Liberation Sans",Arial,sans-serif;font-weight:normal;stroke:#000;stroke-width:0.35'>sh545</text>
<rect x="901.5" y="1172.5" width="21.0" height="21.2" rx="2" fill="#A0A0A0" stroke="#111" stroke-width="2.2"/>
<text transform="translate(936.3 1189.6) scale(0.905 1)" font-size="27.5" style='font-family:"Liberation Sans",Arial,sans-serif;font-weight:normal;stroke:#000;stroke-width:0.35'>shScr</text>
<rect x="901.5" y="1206.5" width="21.0" height="21.2" rx="2" fill="#A0D0FF" stroke="#111" stroke-width="2.2"/>
<text transform="translate(936.3 1223.6) scale(0.905 1)" font-size="27.5" style='font-family:"Liberation Sans",Arial,sans-serif;font-weight:normal;stroke:#000;stroke-width:0.35'>sh539</text>
<rect x="901.5" y="1240.8" width="21.0" height="21.2" rx="2" fill="#D09CFF" stroke="#111" stroke-width="2.2"/>
<text transform="translate(936.3 1257.9) scale(0.905 1)" font-size="27.5" style='font-family:"Liberation Sans",Arial,sans-serif;font-weight:normal;stroke:#000;stroke-width:0.35'>sh545</text>
<rect x="1396.9" y="1173.9" width="19.6" height="21.7" rx="2" fill="#8C8C8C" stroke="#111" stroke-width="2.2"/>
<text transform="translate(1430.3 1191.3) scale(0.885 1)" font-size="27.5" style='font-family:"Liberation Sans",Arial,sans-serif;font-weight:normal;stroke:#000;stroke-width:0.35'>shScr</text>
<rect x="1396.9" y="1209.2" width="19.6" height="21.7" rx="2" fill="#A0D800" stroke="#111" stroke-width="2.2"/>
<text transform="translate(1430.3 1226.6) scale(0.885 1)" font-size="27.5" style='font-family:"Liberation Sans",Arial,sans-serif;font-weight:normal;stroke:#000;stroke-width:0.35'>sh539</text>
<rect x="1396.9" y="1244.5" width="19.6" height="21.7" rx="2" fill="#FFCC00" stroke="#111" stroke-width="2.2"/>
<text transform="translate(1430.3 1261.9) scale(0.885 1)" font-size="27.5" style='font-family:"Liberation Sans",Arial,sans-serif;font-weight:normal;stroke:#000;stroke-width:0.35'>sh545</text>
<text transform="translate(274.4 1705) scale(1.0 1)" font-size="46" text-anchor="middle" style='font-family:"Liberation Sans",Arial,sans-serif;font-weight:normal'>c-kit</text>
<text transform="translate(735.6 1705) scale(1.0 1)" font-size="46" text-anchor="middle" style='font-family:"Liberation Sans",Arial,sans-serif;font-weight:normal'>Mac</text>
<text transform="translate(1241.3 1705) scale(0.946 1)" font-size="46" text-anchor="middle" style='font-family:"Liberation Sans",Arial,sans-serif;font-weight:normal'>Gr-1</text>
<text transform="translate(66.3 1276.8) rotate(-90) scale(0.975 1)" font-size="35" text-anchor="middle" style='font-family:"Liberation Sans",Arial,sans-serif;font-weight:bold'>Clone 1</text>
<text transform="translate(66.3 1527) rotate(-90) scale(0.975 1)" font-size="35" text-anchor="middle" style='font-family:"Liberation Sans",Arial,sans-serif;font-weight:bold'>Clone 2</text>
</svg>
</body></html>
